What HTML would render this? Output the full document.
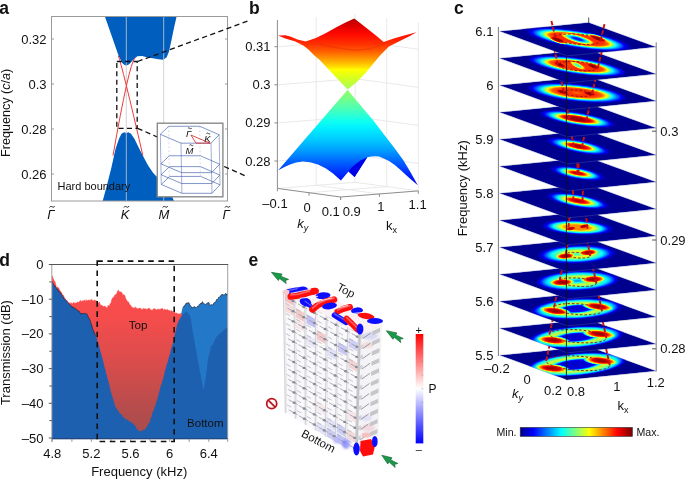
<!DOCTYPE html>
<html><head><meta charset="utf-8"><style>
html,body{margin:0;padding:0;background:#fff;overflow:hidden;}
svg{display:block;will-change:transform;}
text{font-family:"Liberation Sans",sans-serif;fill:#111;}
</style></head><body>
<svg width="685" height="479" viewBox="0 0 685 479">
<rect width="685" height="479" fill="#fff"/>
<path d="M104.90 16.50 L118.70 56.10 L122.20 63.10 L124.50 65.00 L126.30 65.50 L128.40 64.80 L130.40 63.10 L133.90 59.00 L137.40 56.30 L142.10 56.00 L146.80 57.20 L152.60 58.30 L158.50 59.30 L163.20 59.80 L166.70 57.30 L169.00 51.40 L171.30 40.90 L173.70 29.20 L176.60 16.50 Z" fill="#005ebe"/>
<path d="M102.70 201.00 L107.00 185.00 L111.30 168.00 L115.50 149.10 L119.00 138.80 L121.50 133.70 L124.10 132.30 L126.20 133.00 L128.40 132.30 L131.00 133.70 L134.40 138.80 L138.70 147.40 L143.00 156.00 L148.10 165.40 L153.20 173.10 L157.50 177.40 L162.00 182.00 L166.00 186.50 L170.00 192.00 L174.00 201.00 Z" fill="#005ebe"/>
<line x1="126.3" y1="16.5" x2="126.3" y2="201.0" stroke="#c9c9c9" stroke-width="0.9" opacity="0.9"/>
<line x1="163.7" y1="16.5" x2="163.7" y2="201.0" stroke="#c9c9c9" stroke-width="0.9" opacity="0.9"/>
<path d="M118.3 55.7 Q122.20 65.95 142.9 155.6" fill="none" stroke="#f03a3a" stroke-width="1.0"/>
<path d="M134.9 58.0 Q128.85 64.80 113.0 155.6" fill="none" stroke="#f03a3a" stroke-width="1.0"/>
<rect x="51.5" y="16.5" width="176.0" height="184.5" fill="none" stroke="#9a9a9a" stroke-width="1"/>
<line x1="51.5" y1="39.0" x2="54.0" y2="39.0" stroke="#9a9a9a" stroke-width="1"/>
<line x1="227.5" y1="39.0" x2="225.0" y2="39.0" stroke="#9a9a9a" stroke-width="1"/>
<line x1="51.5" y1="84.0" x2="54.0" y2="84.0" stroke="#9a9a9a" stroke-width="1"/>
<line x1="227.5" y1="84.0" x2="225.0" y2="84.0" stroke="#9a9a9a" stroke-width="1"/>
<line x1="51.5" y1="129.0" x2="54.0" y2="129.0" stroke="#9a9a9a" stroke-width="1"/>
<line x1="227.5" y1="129.0" x2="225.0" y2="129.0" stroke="#9a9a9a" stroke-width="1"/>
<line x1="51.5" y1="174.0" x2="54.0" y2="174.0" stroke="#9a9a9a" stroke-width="1"/>
<line x1="227.5" y1="174.0" x2="225.0" y2="174.0" stroke="#9a9a9a" stroke-width="1"/>
<text x="46.5" y="43.5" font-size="13" text-anchor="end" font-family="Liberation Sans, sans-serif">0.32</text>
<text x="46.5" y="88.5" font-size="13" text-anchor="end" font-family="Liberation Sans, sans-serif">0.3</text>
<text x="46.5" y="133.5" font-size="13" text-anchor="end" font-family="Liberation Sans, sans-serif">0.28</text>
<text x="46.5" y="178.5" font-size="13" text-anchor="end" font-family="Liberation Sans, sans-serif">0.26</text>
<text transform="translate(10.4,112.9) rotate(-90)" font-size="12.6" text-anchor="middle" font-family="Liberation Sans, sans-serif">Frequency (<tspan font-style="italic">c</tspan>/<tspan font-style="italic">a</tspan>)</text>
<text x="50.9" y="218.7" font-size="13" font-style="italic" text-anchor="middle" font-family="Liberation Sans, sans-serif">Γ</text>
<path d="M49.60 207.52 C50.60 205.60 51.35 206.56 52.10 206.80 S53.60 208.00 54.60 206.08" fill="none" stroke="#111" stroke-width="0.9"/>
<text x="125.2" y="218.7" font-size="13" font-style="italic" text-anchor="middle" font-family="Liberation Sans, sans-serif">K</text>
<path d="M123.90 207.52 C124.90 205.60 125.65 206.56 126.40 206.80 S127.90 208.00 128.90 206.08" fill="none" stroke="#111" stroke-width="0.9"/>
<text x="164.0" y="218.7" font-size="13" font-style="italic" text-anchor="middle" font-family="Liberation Sans, sans-serif">M</text>
<path d="M162.70 207.52 C163.70 205.60 164.45 206.56 165.20 206.80 S166.70 208.00 167.70 206.08" fill="none" stroke="#111" stroke-width="0.9"/>
<text x="226.3" y="218.7" font-size="13" font-style="italic" text-anchor="middle" font-family="Liberation Sans, sans-serif">Γ</text>
<path d="M225.00 207.52 C226.00 205.60 226.75 206.56 227.50 206.80 S229.00 208.00 230.00 206.08" fill="none" stroke="#111" stroke-width="0.9"/>
<text x="57.5" y="189.9" font-size="11" font-family="Liberation Sans, sans-serif">Hard boundary</text>
<rect x="116.8" y="61.5" width="20.4" height="66.8" fill="none" stroke="#111" stroke-width="1.3" stroke-dasharray="5 3.4"/>
<line x1="137.6" y1="61.5" x2="248.2" y2="20.9" stroke="#111" stroke-width="1.3" stroke-dasharray="5.2 3.4"/>
<line x1="137.6" y1="128.3" x2="245.0" y2="175.7" stroke="#111" stroke-width="1.3" stroke-dasharray="5.2 3.4"/>
<rect x="157.3" y="123.2" width="65.6" height="73.6" fill="#fff" stroke="#8a8a8a" stroke-width="1.4"/>
<path d="M160.33 134.34 L168.78 126.27 L199.77 126.27 L219.11 134.72 L211.03 143.17 L180.99 143.17 Z" fill="none" stroke="#3a5aa8" stroke-width="0.75" opacity="0.85"/>
<path d="M160.89 163.83 L169.34 155.75 L200.33 155.75 L219.67 164.20 L211.60 172.65 L181.55 172.65 Z" fill="none" stroke="#3a5aa8" stroke-width="0.75" opacity="0.85"/>
<path d="M161.08 174.72 L169.53 166.64 L200.52 166.64 L219.86 175.09 L211.78 183.54 L181.74 183.54 Z" fill="none" stroke="#3a5aa8" stroke-width="0.75" opacity="0.85"/>
<path d="M161.27 184.48 L169.72 176.41 L200.70 176.41 L220.05 184.86 L211.97 193.31 L181.92 193.31 Z" fill="none" stroke="#3a5aa8" stroke-width="0.75" opacity="0.85"/>
<line x1="160.33" y1="134.34" x2="161.27" y2="184.48" stroke="#3a5aa8" stroke-width="0.6" opacity="0.8" />
<line x1="180.99" y1="143.17" x2="181.92" y2="193.31" stroke="#3a5aa8" stroke-width="0.6" opacity="0.8" />
<line x1="211.03" y1="143.17" x2="211.97" y2="193.31" stroke="#3a5aa8" stroke-width="0.6" opacity="0.8" />
<line x1="219.11" y1="134.72" x2="220.05" y2="184.86" stroke="#3a5aa8" stroke-width="0.6" opacity="0.8" />
<line x1="168.78" y1="126.27" x2="169.34" y2="176.97" stroke="#9aa8cc" stroke-width="0.6" opacity="0.7" stroke-dasharray="2 2"/>
<line x1="199.77" y1="126.27" x2="200.33" y2="176.97" stroke="#9aa8cc" stroke-width="0.6" opacity="0.7" stroke-dasharray="2 2"/>
<path d="M190.94 135.09 L210.09 143.17 L196.01 143.17 Z" fill="none" stroke="#d62020" stroke-width="0.8"/>
<text x="185.90" y="136.70" font-size="9.5" font-style="italic" font-family="Liberation Sans, sans-serif">Γ</text>
<text x="204.30" y="141.90" font-size="9.5" font-style="italic" font-family="Liberation Sans, sans-serif">K</text>
<text x="185.60" y="154.00" font-size="9.5" font-style="italic" font-family="Liberation Sans, sans-serif">M</text>
<path d="M187.90 128.30 q0.9 -1.0 1.9 0 t1.9 0" fill="none" stroke="#111" stroke-width="0.8"/>
<path d="M206.40 133.50 q0.9 -1.0 1.9 0 t1.9 0" fill="none" stroke="#111" stroke-width="0.8"/>
<path d="M189.50 145.20 q0.9 -1.0 1.9 0 t1.9 0" fill="none" stroke="#111" stroke-width="0.8"/>
<polyline points="277.4,161.0 355.1,154.9 418.3,163.5" fill="none" stroke="#e3e3e3" stroke-width="0.8"/>
<polyline points="277.4,122.9 355.1,116.8 418.3,125.4" fill="none" stroke="#e3e3e3" stroke-width="0.8"/>
<polyline points="277.4,84.8 355.1,78.7 418.3,87.3" fill="none" stroke="#e3e3e3" stroke-width="0.8"/>
<polyline points="277.4,46.7 355.1,40.6 418.3,49.2" fill="none" stroke="#e3e3e3" stroke-width="0.8"/>
<line x1="316.2" y1="185.3" x2="316.2" y2="16.9" stroke="#e3e3e3" stroke-width="0.8"/>
<line x1="386.7" y1="186.6" x2="386.7" y2="18.2" stroke="#e3e3e3" stroke-width="0.8"/>
<line x1="355.1" y1="182.3" x2="355.1" y2="13.9" stroke="#e3e3e3" stroke-width="0.8"/>
<line x1="418.3" y1="190.9" x2="418.3" y2="22.5" stroke="#e3e3e3" stroke-width="0.8"/>
<line x1="309.0" y1="192.7" x2="386.7" y2="186.6" stroke="#e3e3e3" stroke-width="0.8"/>
<line x1="316.2" y1="185.3" x2="379.4" y2="193.9" stroke="#e3e3e3" stroke-width="0.8"/>
<polyline points="277.4,188.4 355.1,182.3 418.3,190.9" fill="none" stroke="#e3e3e3" stroke-width="0.8"/>
<defs>
<linearGradient id="bup" gradientUnits="userSpaceOnUse" x1="0" y1="18" x2="0" y2="90">
<stop offset="0" stop-color="#b00000"/>
<stop offset="0.11" stop-color="#e00000"/>
<stop offset="0.22" stop-color="#ff0800"/>
<stop offset="0.36" stop-color="#ff3000"/>
<stop offset="0.47" stop-color="#ff6000"/>
<stop offset="0.58" stop-color="#ffa000"/>
<stop offset="0.67" stop-color="#ffd800"/>
<stop offset="0.72" stop-color="#ffff00"/>
<stop offset="0.83" stop-color="#d8ff20"/>
<stop offset="1" stop-color="#a0ff58"/>
</linearGradient>
<linearGradient id="blo" gradientUnits="userSpaceOnUse" x1="0" y1="90" x2="0" y2="186">
<stop offset="0" stop-color="#98ff68"/>
<stop offset="0.104" stop-color="#70ff90"/>
<stop offset="0.22" stop-color="#40ffc0"/>
<stop offset="0.323" stop-color="#10fff0"/>
<stop offset="0.396" stop-color="#00f0ff"/>
<stop offset="0.5" stop-color="#00d0ff"/>
<stop offset="0.625" stop-color="#00a0ff"/>
<stop offset="0.72" stop-color="#0070ff"/>
<stop offset="0.823" stop-color="#0040ff"/>
<stop offset="0.917" stop-color="#0018ff"/>
<stop offset="1" stop-color="#0008f0"/>
</linearGradient>
</defs>
<path d="M347.60 89.80 L361.90 106.90 L372.90 120.00 L383.80 134.30 L394.80 148.50 L403.50 160.60 L410.10 171.50 L417.80 185.30 L411.00 179.50 L405.70 174.80 L400.00 169.50 L394.80 165.00 L389.00 161.00 L383.80 158.40 L379.00 156.60 L375.00 156.20 L371.00 156.50 L367.30 157.30 L354.60 176.90 L348.50 171.50 L340.90 180.50 L333.00 173.50 L326.00 168.50 L318.00 164.50 L310.00 162.20 L302.70 161.60 L296.00 162.50 L290.00 164.50 L284.00 167.20 L278.20 170.20 Z" fill="url(#blo)"/>
<path d="M348.50 171.50 L352.00 167.20 L356.00 163.80 L361.00 160.20 L367.30 157.30 L354.60 176.90 Z" fill="#0000e6"/>
<path d="M278.10 35.50 L285.20 35.20 L290.30 36.50 L297.50 39.50 L305.60 41.60 L315.90 38.00 L326.10 32.90 L336.30 27.30 L345.00 22.70 L354.30 18.60 L362.00 24.50 L369.30 30.30 L377.50 36.80 L383.60 42.00 L393.70 38.40 L405.10 35.20 L416.50 32.20 L408.00 37.00 L401.90 40.10 L388.90 46.60 L380.70 54.70 L372.60 64.50 L364.40 74.30 L356.30 82.40 L347.70 89.60 L339.00 80.50 L330.00 71.00 L319.70 60.00 L313.80 54.90 L308.70 49.80 L303.60 45.70 L295.40 41.60 L285.20 38.50 Z" fill="url(#bup)"/>
<path d="M305.60 41.60 L315.90 43.60 L326.10 45.70 L336.30 47.70 L345.00 49.20 L356.30 50.20 L369.30 49.00 L377.00 46.50 L384.00 42.50" fill="none" stroke="#e83000" stroke-width="1.2" opacity="0.55"/>
<line x1="277.4" y1="188.4" x2="277.4" y2="20.0" stroke="#8c8c8c" stroke-width="1"/>
<line x1="274.4" y1="161.0" x2="277.4" y2="161.0" stroke="#8c8c8c" stroke-width="1"/>
<text x="270.6" y="165.5" font-size="13" text-anchor="end" font-family="Liberation Sans, sans-serif">0.28</text>
<line x1="274.4" y1="122.9" x2="277.4" y2="122.9" stroke="#8c8c8c" stroke-width="1"/>
<text x="270.6" y="127.4" font-size="13" text-anchor="end" font-family="Liberation Sans, sans-serif">0.29</text>
<line x1="274.4" y1="84.8" x2="277.4" y2="84.8" stroke="#8c8c8c" stroke-width="1"/>
<text x="270.6" y="89.3" font-size="13" text-anchor="end" font-family="Liberation Sans, sans-serif">0.3</text>
<line x1="274.4" y1="46.7" x2="277.4" y2="46.7" stroke="#8c8c8c" stroke-width="1"/>
<text x="270.6" y="51.2" font-size="13" text-anchor="end" font-family="Liberation Sans, sans-serif">0.31</text>
<polyline points="277.4,188.4 340.6,197.0 418.3,190.9" fill="none" stroke="#8c8c8c" stroke-width="1"/>
<line x1="277.4" y1="188.4" x2="277.4" y2="191.4" stroke="#8c8c8c" stroke-width="1"/>
<line x1="309.0" y1="192.7" x2="309.0" y2="195.7" stroke="#8c8c8c" stroke-width="1"/>
<line x1="340.6" y1="197.0" x2="340.6" y2="200.0" stroke="#8c8c8c" stroke-width="1"/>
<line x1="340.6" y1="197.0" x2="340.6" y2="200.0" stroke="#8c8c8c" stroke-width="1"/>
<line x1="379.4" y1="193.9" x2="379.4" y2="196.9" stroke="#8c8c8c" stroke-width="1"/>
<line x1="418.3" y1="190.9" x2="418.3" y2="193.9" stroke="#8c8c8c" stroke-width="1"/>
<text x="275.0" y="207.5" font-size="13" text-anchor="middle" font-family="Liberation Sans, sans-serif">–0.1</text>
<text x="307.0" y="211.5" font-size="13" text-anchor="middle" font-family="Liberation Sans, sans-serif">0</text>
<text x="330.7" y="215.5" font-size="13" text-anchor="middle" font-family="Liberation Sans, sans-serif">0.1</text>
<text x="351.8" y="215.5" font-size="13" text-anchor="middle" font-family="Liberation Sans, sans-serif">0.9</text>
<text x="380.8" y="211.0" font-size="13" text-anchor="middle" font-family="Liberation Sans, sans-serif">1</text>
<text x="417.6" y="208.5" font-size="13" text-anchor="middle" font-family="Liberation Sans, sans-serif">1.1</text>
<text x="297.2" y="227.5" font-size="13" font-style="italic" font-family="Liberation Sans, sans-serif">k<tspan font-size="9" dy="3">y</tspan></text>
<text x="386" y="229.5" font-size="13" font-family="Liberation Sans, sans-serif">k<tspan font-size="9" dy="3">x</tspan></text>
<defs><filter id="jetf" x="0" y="0" width="1" height="1" filterUnits="objectBoundingBox" color-interpolation-filters="sRGB"><feComponentTransfer><feFuncR type="table" tableValues="0.0000 0.0000 0.0000 0.0000 0.0000 0.0000 0.0000 0.0000 0.0000 0.0000 0.0000 0.0000 0.0000 0.0000 0.0000 0.0000 0.0000 0.0000 0.0000 0.0000 0.0000 0.0000 0.0000 0.0000 0.0625 0.1250 0.1875 0.2500 0.3125 0.3750 0.4375 0.5000 0.5625 0.6250 0.6875 0.7500 0.8125 0.8750 0.9375 1.0000 1.0000 1.0000 1.0000 1.0000 1.0000 1.0000 1.0000 1.0000 1.0000 1.0000 1.0000 1.0000 1.0000 1.0000 1.0000 1.0000 0.9375 0.8750 0.8125 0.7500 0.6875 0.6250 0.5625 0.5000"/><feFuncG type="table" tableValues="0.0000 0.0000 0.0000 0.0000 0.0000 0.0000 0.0000 0.0000 0.0625 0.1250 0.1875 0.2500 0.3125 0.3750 0.4375 0.5000 0.5625 0.6250 0.6875 0.7500 0.8125 0.8750 0.9375 1.0000 1.0000 1.0000 1.0000 1.0000 1.0000 1.0000 1.0000 1.0000 1.0000 1.0000 1.0000 1.0000 1.0000 1.0000 1.0000 1.0000 0.9375 0.8750 0.8125 0.7500 0.6875 0.6250 0.5625 0.5000 0.4375 0.3750 0.3125 0.2500 0.1875 0.1250 0.0625 0.0000 0.0000 0.0000 0.0000 0.0000 0.0000 0.0000 0.0000 0.0000"/><feFuncB type="table" tableValues="0.5625 0.6250 0.6875 0.7500 0.8125 0.8750 0.9375 1.0000 1.0000 1.0000 1.0000 1.0000 1.0000 1.0000 1.0000 1.0000 1.0000 1.0000 1.0000 1.0000 1.0000 1.0000 1.0000 1.0000 0.9375 0.8750 0.8125 0.7500 0.6875 0.6250 0.5625 0.5000 0.4375 0.3750 0.3125 0.2500 0.1875 0.1250 0.0625 0.0000 0.0000 0.0000 0.0000 0.0000 0.0000 0.0000 0.0000 0.0000 0.0000 0.0000 0.0000 0.0000 0.0000 0.0000 0.0000 0.0000 0.0000 0.0000 0.0000 0.0000 0.0000 0.0000 0.0000 0.0000"/></feComponentTransfer></filter>
<clipPath id="sqclip"><rect x="0" y="0" width="100" height="100"/></clipPath>
<radialGradient id="rg12"><stop offset="0.0000" stop-color="rgb(15,15,15)"/><stop offset="0.0250" stop-color="rgb(16,16,16)"/><stop offset="0.0500" stop-color="rgb(16,16,16)"/><stop offset="0.0750" stop-color="rgb(16,16,16)"/><stop offset="0.1000" stop-color="rgb(16,16,16)"/><stop offset="0.1250" stop-color="rgb(16,16,16)"/><stop offset="0.1500" stop-color="rgb(17,17,17)"/><stop offset="0.1750" stop-color="rgb(17,17,17)"/><stop offset="0.2000" stop-color="rgb(17,17,17)"/><stop offset="0.2250" stop-color="rgb(17,17,17)"/><stop offset="0.2500" stop-color="rgb(17,17,17)"/><stop offset="0.2750" stop-color="rgb(18,18,18)"/><stop offset="0.3000" stop-color="rgb(18,18,18)"/><stop offset="0.3250" stop-color="rgb(23,23,23)"/><stop offset="0.3500" stop-color="rgb(28,28,28)"/><stop offset="0.3750" stop-color="rgb(33,33,33)"/><stop offset="0.4000" stop-color="rgb(38,38,38)"/><stop offset="0.4250" stop-color="rgb(56,56,56)"/><stop offset="0.4500" stop-color="rgb(74,74,74)"/><stop offset="0.4750" stop-color="rgb(93,93,93)"/><stop offset="0.5000" stop-color="rgb(112,112,112)"/><stop offset="0.5250" stop-color="rgb(129,129,129)"/><stop offset="0.5500" stop-color="rgb(136,136,136)"/><stop offset="0.5750" stop-color="rgb(144,144,144)"/><stop offset="0.6000" stop-color="rgb(143,143,143)"/><stop offset="0.6250" stop-color="rgb(141,141,141)"/><stop offset="0.6500" stop-color="rgb(139,139,139)"/><stop offset="0.6750" stop-color="rgb(133,133,133)"/><stop offset="0.7000" stop-color="rgb(126,126,126)"/><stop offset="0.7250" stop-color="rgb(119,119,119)"/><stop offset="0.7500" stop-color="rgb(112,112,112)"/><stop offset="0.7750" stop-color="rgb(104,104,104)"/><stop offset="0.8000" stop-color="rgb(96,96,96)"/><stop offset="0.8250" stop-color="rgb(87,87,87)"/><stop offset="0.8500" stop-color="rgb(75,75,75)"/><stop offset="0.8750" stop-color="rgb(64,64,64)"/><stop offset="0.9000" stop-color="rgb(49,49,49)"/><stop offset="0.9250" stop-color="rgb(34,34,34)"/><stop offset="0.9500" stop-color="rgb(21,21,21)"/><stop offset="0.9750" stop-color="rgb(11,11,11)"/><stop offset="1.0000" stop-color="rgb(0,0,0)"/></radialGradient>
<clipPath id="sc12"><path d="M499.70 355.30 L588.70 346.50 L656.20 371.10 L567.20 379.90 Z"/></clipPath>
<radialGradient id="lg12_0"><stop offset="0.000" stop-color="rgb(247,247,247)"/><stop offset="0.200" stop-color="rgb(245,245,245)"/><stop offset="0.400" stop-color="rgb(230,230,230)"/><stop offset="0.600" stop-color="rgb(186,186,186)"/><stop offset="0.800" stop-color="rgb(104,104,104)"/><stop offset="0.920" stop-color="rgb(37,37,37)"/><stop offset="1.000" stop-color="rgb(0,0,0)"/></radialGradient>
<radialGradient id="lg12_1"><stop offset="0.000" stop-color="rgb(247,247,247)"/><stop offset="0.200" stop-color="rgb(245,245,245)"/><stop offset="0.400" stop-color="rgb(230,230,230)"/><stop offset="0.600" stop-color="rgb(186,186,186)"/><stop offset="0.800" stop-color="rgb(104,104,104)"/><stop offset="0.920" stop-color="rgb(37,37,37)"/><stop offset="1.000" stop-color="rgb(0,0,0)"/></radialGradient>
<radialGradient id="rg11"><stop offset="0.0000" stop-color="rgb(15,15,15)"/><stop offset="0.0250" stop-color="rgb(16,16,16)"/><stop offset="0.0500" stop-color="rgb(16,16,16)"/><stop offset="0.0750" stop-color="rgb(16,16,16)"/><stop offset="0.1000" stop-color="rgb(16,16,16)"/><stop offset="0.1250" stop-color="rgb(17,17,17)"/><stop offset="0.1500" stop-color="rgb(17,17,17)"/><stop offset="0.1750" stop-color="rgb(17,17,17)"/><stop offset="0.2000" stop-color="rgb(17,17,17)"/><stop offset="0.2250" stop-color="rgb(18,18,18)"/><stop offset="0.2500" stop-color="rgb(18,18,18)"/><stop offset="0.2750" stop-color="rgb(23,23,23)"/><stop offset="0.3000" stop-color="rgb(28,28,28)"/><stop offset="0.3250" stop-color="rgb(33,33,33)"/><stop offset="0.3500" stop-color="rgb(37,37,37)"/><stop offset="0.3750" stop-color="rgb(53,53,53)"/><stop offset="0.4000" stop-color="rgb(70,70,70)"/><stop offset="0.4250" stop-color="rgb(88,88,88)"/><stop offset="0.4500" stop-color="rgb(106,106,106)"/><stop offset="0.4750" stop-color="rgb(124,124,124)"/><stop offset="0.5000" stop-color="rgb(133,133,133)"/><stop offset="0.5250" stop-color="rgb(141,141,141)"/><stop offset="0.5500" stop-color="rgb(145,145,145)"/><stop offset="0.5750" stop-color="rgb(142,142,142)"/><stop offset="0.6000" stop-color="rgb(140,140,140)"/><stop offset="0.6250" stop-color="rgb(138,138,138)"/><stop offset="0.6500" stop-color="rgb(131,131,131)"/><stop offset="0.6750" stop-color="rgb(124,124,124)"/><stop offset="0.7000" stop-color="rgb(117,117,117)"/><stop offset="0.7250" stop-color="rgb(110,110,110)"/><stop offset="0.7500" stop-color="rgb(102,102,102)"/><stop offset="0.7750" stop-color="rgb(94,94,94)"/><stop offset="0.8000" stop-color="rgb(86,86,86)"/><stop offset="0.8250" stop-color="rgb(74,74,74)"/><stop offset="0.8500" stop-color="rgb(63,63,63)"/><stop offset="0.8750" stop-color="rgb(49,49,49)"/><stop offset="0.9000" stop-color="rgb(35,35,35)"/><stop offset="0.9250" stop-color="rgb(23,23,23)"/><stop offset="0.9500" stop-color="rgb(15,15,15)"/><stop offset="0.9750" stop-color="rgb(8,8,8)"/><stop offset="1.0000" stop-color="rgb(0,0,0)"/></radialGradient>
<clipPath id="sc11"><path d="M499.70 328.30 L588.70 319.50 L656.20 344.10 L567.20 352.90 Z"/></clipPath>
<radialGradient id="lg11_0"><stop offset="0.000" stop-color="rgb(247,247,247)"/><stop offset="0.200" stop-color="rgb(245,245,245)"/><stop offset="0.400" stop-color="rgb(230,230,230)"/><stop offset="0.600" stop-color="rgb(186,186,186)"/><stop offset="0.800" stop-color="rgb(104,104,104)"/><stop offset="0.920" stop-color="rgb(37,37,37)"/><stop offset="1.000" stop-color="rgb(0,0,0)"/></radialGradient>
<radialGradient id="lg11_1"><stop offset="0.000" stop-color="rgb(247,247,247)"/><stop offset="0.200" stop-color="rgb(245,245,245)"/><stop offset="0.400" stop-color="rgb(230,230,230)"/><stop offset="0.600" stop-color="rgb(186,186,186)"/><stop offset="0.800" stop-color="rgb(104,104,104)"/><stop offset="0.920" stop-color="rgb(37,37,37)"/><stop offset="1.000" stop-color="rgb(0,0,0)"/></radialGradient>
<radialGradient id="rg10"><stop offset="0.0000" stop-color="rgb(15,15,15)"/><stop offset="0.0250" stop-color="rgb(16,16,16)"/><stop offset="0.0500" stop-color="rgb(17,17,17)"/><stop offset="0.0750" stop-color="rgb(17,17,17)"/><stop offset="0.1000" stop-color="rgb(18,18,18)"/><stop offset="0.1250" stop-color="rgb(18,18,18)"/><stop offset="0.1500" stop-color="rgb(19,19,19)"/><stop offset="0.1750" stop-color="rgb(20,20,20)"/><stop offset="0.2000" stop-color="rgb(20,20,20)"/><stop offset="0.2250" stop-color="rgb(24,24,24)"/><stop offset="0.2500" stop-color="rgb(28,28,28)"/><stop offset="0.2750" stop-color="rgb(33,33,33)"/><stop offset="0.3000" stop-color="rgb(38,38,38)"/><stop offset="0.3250" stop-color="rgb(57,57,57)"/><stop offset="0.3500" stop-color="rgb(78,78,78)"/><stop offset="0.3750" stop-color="rgb(97,97,97)"/><stop offset="0.4000" stop-color="rgb(115,115,115)"/><stop offset="0.4250" stop-color="rgb(130,130,130)"/><stop offset="0.4500" stop-color="rgb(137,137,137)"/><stop offset="0.4750" stop-color="rgb(144,144,144)"/><stop offset="0.5000" stop-color="rgb(143,143,143)"/><stop offset="0.5250" stop-color="rgb(141,141,141)"/><stop offset="0.5500" stop-color="rgb(139,139,139)"/><stop offset="0.5750" stop-color="rgb(134,134,134)"/><stop offset="0.6000" stop-color="rgb(127,127,127)"/><stop offset="0.6250" stop-color="rgb(120,120,120)"/><stop offset="0.6500" stop-color="rgb(114,114,114)"/><stop offset="0.6750" stop-color="rgb(107,107,107)"/><stop offset="0.7000" stop-color="rgb(100,100,100)"/><stop offset="0.7250" stop-color="rgb(93,93,93)"/><stop offset="0.7500" stop-color="rgb(83,83,83)"/><stop offset="0.7750" stop-color="rgb(73,73,73)"/><stop offset="0.8000" stop-color="rgb(62,62,62)"/><stop offset="0.8250" stop-color="rgb(50,50,50)"/><stop offset="0.8500" stop-color="rgb(38,38,38)"/><stop offset="0.8750" stop-color="rgb(27,27,27)"/><stop offset="0.9000" stop-color="rgb(17,17,17)"/><stop offset="0.9250" stop-color="rgb(9,9,9)"/><stop offset="0.9500" stop-color="rgb(6,6,6)"/><stop offset="0.9750" stop-color="rgb(3,3,3)"/><stop offset="1.0000" stop-color="rgb(0,0,0)"/></radialGradient>
<clipPath id="sc10"><path d="M499.70 301.30 L588.70 292.50 L656.20 317.10 L567.20 325.90 Z"/></clipPath>
<radialGradient id="lg10_0"><stop offset="0.000" stop-color="rgb(247,247,247)"/><stop offset="0.200" stop-color="rgb(245,245,245)"/><stop offset="0.400" stop-color="rgb(230,230,230)"/><stop offset="0.600" stop-color="rgb(186,186,186)"/><stop offset="0.800" stop-color="rgb(104,104,104)"/><stop offset="0.920" stop-color="rgb(37,37,37)"/><stop offset="1.000" stop-color="rgb(0,0,0)"/></radialGradient>
<radialGradient id="lg10_1"><stop offset="0.000" stop-color="rgb(247,247,247)"/><stop offset="0.200" stop-color="rgb(245,245,245)"/><stop offset="0.400" stop-color="rgb(230,230,230)"/><stop offset="0.600" stop-color="rgb(186,186,186)"/><stop offset="0.800" stop-color="rgb(104,104,104)"/><stop offset="0.920" stop-color="rgb(37,37,37)"/><stop offset="1.000" stop-color="rgb(0,0,0)"/></radialGradient>
<radialGradient id="rg9"><stop offset="0.0000" stop-color="rgb(64,64,64)"/><stop offset="0.0250" stop-color="rgb(67,67,67)"/><stop offset="0.0500" stop-color="rgb(70,70,70)"/><stop offset="0.0750" stop-color="rgb(74,74,74)"/><stop offset="0.1000" stop-color="rgb(78,78,78)"/><stop offset="0.1250" stop-color="rgb(84,84,84)"/><stop offset="0.1500" stop-color="rgb(91,91,91)"/><stop offset="0.1750" stop-color="rgb(98,98,98)"/><stop offset="0.2000" stop-color="rgb(105,105,105)"/><stop offset="0.2250" stop-color="rgb(111,111,111)"/><stop offset="0.2500" stop-color="rgb(118,118,118)"/><stop offset="0.2750" stop-color="rgb(125,125,125)"/><stop offset="0.3000" stop-color="rgb(130,130,130)"/><stop offset="0.3250" stop-color="rgb(135,135,135)"/><stop offset="0.3500" stop-color="rgb(140,140,140)"/><stop offset="0.3750" stop-color="rgb(144,144,144)"/><stop offset="0.4000" stop-color="rgb(144,144,144)"/><stop offset="0.4250" stop-color="rgb(143,143,143)"/><stop offset="0.4500" stop-color="rgb(142,142,142)"/><stop offset="0.4750" stop-color="rgb(140,140,140)"/><stop offset="0.5000" stop-color="rgb(135,135,135)"/><stop offset="0.5250" stop-color="rgb(128,128,128)"/><stop offset="0.5500" stop-color="rgb(122,122,122)"/><stop offset="0.5750" stop-color="rgb(117,117,117)"/><stop offset="0.6000" stop-color="rgb(111,111,111)"/><stop offset="0.6250" stop-color="rgb(106,106,106)"/><stop offset="0.6500" stop-color="rgb(100,100,100)"/><stop offset="0.6750" stop-color="rgb(95,95,95)"/><stop offset="0.7000" stop-color="rgb(90,90,90)"/><stop offset="0.7250" stop-color="rgb(84,84,84)"/><stop offset="0.7500" stop-color="rgb(79,79,79)"/><stop offset="0.7750" stop-color="rgb(72,72,72)"/><stop offset="0.8000" stop-color="rgb(63,63,63)"/><stop offset="0.8250" stop-color="rgb(54,54,54)"/><stop offset="0.8500" stop-color="rgb(45,45,45)"/><stop offset="0.8750" stop-color="rgb(36,36,36)"/><stop offset="0.9000" stop-color="rgb(27,27,27)"/><stop offset="0.9250" stop-color="rgb(20,20,20)"/><stop offset="0.9500" stop-color="rgb(13,13,13)"/><stop offset="0.9750" stop-color="rgb(7,7,7)"/><stop offset="1.0000" stop-color="rgb(0,0,0)"/></radialGradient>
<clipPath id="sc9"><path d="M499.70 274.30 L588.70 265.50 L656.20 290.10 L567.20 298.90 Z"/></clipPath>
<radialGradient id="lg9_0"><stop offset="0.000" stop-color="rgb(247,247,247)"/><stop offset="0.200" stop-color="rgb(245,245,245)"/><stop offset="0.400" stop-color="rgb(230,230,230)"/><stop offset="0.600" stop-color="rgb(186,186,186)"/><stop offset="0.800" stop-color="rgb(104,104,104)"/><stop offset="0.920" stop-color="rgb(37,37,37)"/><stop offset="1.000" stop-color="rgb(0,0,0)"/></radialGradient>
<radialGradient id="lg9_1"><stop offset="0.000" stop-color="rgb(247,247,247)"/><stop offset="0.200" stop-color="rgb(245,245,245)"/><stop offset="0.400" stop-color="rgb(230,230,230)"/><stop offset="0.600" stop-color="rgb(186,186,186)"/><stop offset="0.800" stop-color="rgb(104,104,104)"/><stop offset="0.920" stop-color="rgb(37,37,37)"/><stop offset="1.000" stop-color="rgb(0,0,0)"/></radialGradient>
<radialGradient id="rg8"><stop offset="0.0000" stop-color="rgb(107,107,107)"/><stop offset="0.0250" stop-color="rgb(110,110,110)"/><stop offset="0.0500" stop-color="rgb(114,114,114)"/><stop offset="0.0750" stop-color="rgb(117,117,117)"/><stop offset="0.1000" stop-color="rgb(121,121,121)"/><stop offset="0.1250" stop-color="rgb(124,124,124)"/><stop offset="0.1500" stop-color="rgb(128,128,128)"/><stop offset="0.1750" stop-color="rgb(133,133,133)"/><stop offset="0.2000" stop-color="rgb(138,138,138)"/><stop offset="0.2250" stop-color="rgb(143,143,143)"/><stop offset="0.2500" stop-color="rgb(148,148,148)"/><stop offset="0.2750" stop-color="rgb(150,150,150)"/><stop offset="0.3000" stop-color="rgb(151,151,151)"/><stop offset="0.3250" stop-color="rgb(153,153,153)"/><stop offset="0.3500" stop-color="rgb(150,150,150)"/><stop offset="0.3750" stop-color="rgb(147,147,147)"/><stop offset="0.4000" stop-color="rgb(143,143,143)"/><stop offset="0.4250" stop-color="rgb(140,140,140)"/><stop offset="0.4500" stop-color="rgb(134,134,134)"/><stop offset="0.4750" stop-color="rgb(128,128,128)"/><stop offset="0.5000" stop-color="rgb(121,121,121)"/><stop offset="0.5250" stop-color="rgb(115,115,115)"/><stop offset="0.5500" stop-color="rgb(110,110,110)"/><stop offset="0.5750" stop-color="rgb(105,105,105)"/><stop offset="0.6000" stop-color="rgb(100,100,100)"/><stop offset="0.6250" stop-color="rgb(96,96,96)"/><stop offset="0.6500" stop-color="rgb(89,89,89)"/><stop offset="0.6750" stop-color="rgb(83,83,83)"/><stop offset="0.7000" stop-color="rgb(76,76,76)"/><stop offset="0.7250" stop-color="rgb(68,68,68)"/><stop offset="0.7500" stop-color="rgb(60,60,60)"/><stop offset="0.7750" stop-color="rgb(51,51,51)"/><stop offset="0.8000" stop-color="rgb(43,43,43)"/><stop offset="0.8250" stop-color="rgb(36,36,36)"/><stop offset="0.8500" stop-color="rgb(28,28,28)"/><stop offset="0.8750" stop-color="rgb(20,20,20)"/><stop offset="0.9000" stop-color="rgb(16,16,16)"/><stop offset="0.9250" stop-color="rgb(12,12,12)"/><stop offset="0.9500" stop-color="rgb(8,8,8)"/><stop offset="0.9750" stop-color="rgb(4,4,4)"/><stop offset="1.0000" stop-color="rgb(0,0,0)"/></radialGradient>
<clipPath id="sc8"><path d="M499.70 247.30 L588.70 238.50 L656.20 263.10 L567.20 271.90 Z"/></clipPath>
<radialGradient id="lg8_0"><stop offset="0.000" stop-color="rgb(247,247,247)"/><stop offset="0.200" stop-color="rgb(245,245,245)"/><stop offset="0.400" stop-color="rgb(230,230,230)"/><stop offset="0.600" stop-color="rgb(186,186,186)"/><stop offset="0.800" stop-color="rgb(104,104,104)"/><stop offset="0.920" stop-color="rgb(37,37,37)"/><stop offset="1.000" stop-color="rgb(0,0,0)"/></radialGradient>
<radialGradient id="lg8_1"><stop offset="0.000" stop-color="rgb(247,247,247)"/><stop offset="0.200" stop-color="rgb(245,245,245)"/><stop offset="0.400" stop-color="rgb(230,230,230)"/><stop offset="0.600" stop-color="rgb(186,186,186)"/><stop offset="0.800" stop-color="rgb(104,104,104)"/><stop offset="0.920" stop-color="rgb(37,37,37)"/><stop offset="1.000" stop-color="rgb(0,0,0)"/></radialGradient>
<radialGradient id="rg7"><stop offset="0.0000" stop-color="rgb(184,184,184)"/><stop offset="0.0250" stop-color="rgb(184,184,184)"/><stop offset="0.0500" stop-color="rgb(185,185,185)"/><stop offset="0.0750" stop-color="rgb(186,186,186)"/><stop offset="0.1000" stop-color="rgb(187,187,187)"/><stop offset="0.1250" stop-color="rgb(188,188,188)"/><stop offset="0.1500" stop-color="rgb(188,188,188)"/><stop offset="0.1750" stop-color="rgb(189,189,189)"/><stop offset="0.2000" stop-color="rgb(189,189,189)"/><stop offset="0.2250" stop-color="rgb(189,189,189)"/><stop offset="0.2500" stop-color="rgb(189,189,189)"/><stop offset="0.2750" stop-color="rgb(188,188,188)"/><stop offset="0.3000" stop-color="rgb(185,185,185)"/><stop offset="0.3250" stop-color="rgb(183,183,183)"/><stop offset="0.3500" stop-color="rgb(180,180,180)"/><stop offset="0.3750" stop-color="rgb(175,175,175)"/><stop offset="0.4000" stop-color="rgb(166,166,166)"/><stop offset="0.4250" stop-color="rgb(158,158,158)"/><stop offset="0.4500" stop-color="rgb(149,149,149)"/><stop offset="0.4750" stop-color="rgb(140,140,140)"/><stop offset="0.5000" stop-color="rgb(133,133,133)"/><stop offset="0.5250" stop-color="rgb(126,126,126)"/><stop offset="0.5500" stop-color="rgb(119,119,119)"/><stop offset="0.5750" stop-color="rgb(112,112,112)"/><stop offset="0.6000" stop-color="rgb(105,105,105)"/><stop offset="0.6250" stop-color="rgb(97,97,97)"/><stop offset="0.6500" stop-color="rgb(88,88,88)"/><stop offset="0.6750" stop-color="rgb(78,78,78)"/><stop offset="0.7000" stop-color="rgb(68,68,68)"/><stop offset="0.7250" stop-color="rgb(58,58,58)"/><stop offset="0.7500" stop-color="rgb(49,49,49)"/><stop offset="0.7750" stop-color="rgb(40,40,40)"/><stop offset="0.8000" stop-color="rgb(31,31,31)"/><stop offset="0.8250" stop-color="rgb(24,24,24)"/><stop offset="0.8500" stop-color="rgb(19,19,19)"/><stop offset="0.8750" stop-color="rgb(14,14,14)"/><stop offset="0.9000" stop-color="rgb(9,9,9)"/><stop offset="0.9250" stop-color="rgb(5,5,5)"/><stop offset="0.9500" stop-color="rgb(3,3,3)"/><stop offset="0.9750" stop-color="rgb(2,2,2)"/><stop offset="1.0000" stop-color="rgb(0,0,0)"/></radialGradient>
<clipPath id="sc7"><path d="M499.70 220.30 L588.70 211.50 L656.20 236.10 L567.20 244.90 Z"/></clipPath>
<radialGradient id="lg7_0"><stop offset="0.000" stop-color="rgb(247,247,247)"/><stop offset="0.200" stop-color="rgb(245,245,245)"/><stop offset="0.400" stop-color="rgb(230,230,230)"/><stop offset="0.600" stop-color="rgb(186,186,186)"/><stop offset="0.800" stop-color="rgb(104,104,104)"/><stop offset="0.920" stop-color="rgb(37,37,37)"/><stop offset="1.000" stop-color="rgb(0,0,0)"/></radialGradient>
<radialGradient id="lg7_1"><stop offset="0.000" stop-color="rgb(247,247,247)"/><stop offset="0.200" stop-color="rgb(245,245,245)"/><stop offset="0.400" stop-color="rgb(230,230,230)"/><stop offset="0.600" stop-color="rgb(186,186,186)"/><stop offset="0.800" stop-color="rgb(104,104,104)"/><stop offset="0.920" stop-color="rgb(37,37,37)"/><stop offset="1.000" stop-color="rgb(0,0,0)"/></radialGradient>
<radialGradient id="rg6"><stop offset="0.0000" stop-color="rgb(245,245,245)"/><stop offset="0.0250" stop-color="rgb(243,243,243)"/><stop offset="0.0500" stop-color="rgb(241,241,241)"/><stop offset="0.0750" stop-color="rgb(240,240,240)"/><stop offset="0.1000" stop-color="rgb(238,238,238)"/><stop offset="0.1250" stop-color="rgb(236,236,236)"/><stop offset="0.1500" stop-color="rgb(234,234,234)"/><stop offset="0.1750" stop-color="rgb(229,229,229)"/><stop offset="0.2000" stop-color="rgb(225,225,225)"/><stop offset="0.2250" stop-color="rgb(220,220,220)"/><stop offset="0.2500" stop-color="rgb(215,215,215)"/><stop offset="0.2750" stop-color="rgb(211,211,211)"/><stop offset="0.3000" stop-color="rgb(206,206,206)"/><stop offset="0.3250" stop-color="rgb(197,197,197)"/><stop offset="0.3500" stop-color="rgb(184,184,184)"/><stop offset="0.3750" stop-color="rgb(172,172,172)"/><stop offset="0.4000" stop-color="rgb(159,159,159)"/><stop offset="0.4250" stop-color="rgb(149,149,149)"/><stop offset="0.4500" stop-color="rgb(141,141,141)"/><stop offset="0.4750" stop-color="rgb(132,132,132)"/><stop offset="0.5000" stop-color="rgb(124,124,124)"/><stop offset="0.5250" stop-color="rgb(116,116,116)"/><stop offset="0.5500" stop-color="rgb(108,108,108)"/><stop offset="0.5750" stop-color="rgb(100,100,100)"/><stop offset="0.6000" stop-color="rgb(91,91,91)"/><stop offset="0.6250" stop-color="rgb(82,82,82)"/><stop offset="0.6500" stop-color="rgb(73,73,73)"/><stop offset="0.6750" stop-color="rgb(64,64,64)"/><stop offset="0.7000" stop-color="rgb(56,56,56)"/><stop offset="0.7250" stop-color="rgb(48,48,48)"/><stop offset="0.7500" stop-color="rgb(40,40,40)"/><stop offset="0.7750" stop-color="rgb(32,32,32)"/><stop offset="0.8000" stop-color="rgb(24,24,24)"/><stop offset="0.8250" stop-color="rgb(20,20,20)"/><stop offset="0.8500" stop-color="rgb(16,16,16)"/><stop offset="0.8750" stop-color="rgb(11,11,11)"/><stop offset="0.9000" stop-color="rgb(7,7,7)"/><stop offset="0.9250" stop-color="rgb(4,4,4)"/><stop offset="0.9500" stop-color="rgb(3,3,3)"/><stop offset="0.9750" stop-color="rgb(1,1,1)"/><stop offset="1.0000" stop-color="rgb(0,0,0)"/></radialGradient>
<clipPath id="sc6"><path d="M499.70 193.30 L588.70 184.50 L656.20 209.10 L567.20 217.90 Z"/></clipPath>
<radialGradient id="rg5"><stop offset="0.0000" stop-color="rgb(247,247,247)"/><stop offset="0.0250" stop-color="rgb(245,245,245)"/><stop offset="0.0500" stop-color="rgb(244,244,244)"/><stop offset="0.0750" stop-color="rgb(242,242,242)"/><stop offset="0.1000" stop-color="rgb(240,240,240)"/><stop offset="0.1250" stop-color="rgb(238,238,238)"/><stop offset="0.1500" stop-color="rgb(233,233,233)"/><stop offset="0.1750" stop-color="rgb(227,227,227)"/><stop offset="0.2000" stop-color="rgb(221,221,221)"/><stop offset="0.2250" stop-color="rgb(214,214,214)"/><stop offset="0.2500" stop-color="rgb(208,208,208)"/><stop offset="0.2750" stop-color="rgb(200,200,200)"/><stop offset="0.3000" stop-color="rgb(189,189,189)"/><stop offset="0.3250" stop-color="rgb(177,177,177)"/><stop offset="0.3500" stop-color="rgb(166,166,166)"/><stop offset="0.3750" stop-color="rgb(155,155,155)"/><stop offset="0.4000" stop-color="rgb(146,146,146)"/><stop offset="0.4250" stop-color="rgb(136,136,136)"/><stop offset="0.4500" stop-color="rgb(127,127,127)"/><stop offset="0.4750" stop-color="rgb(117,117,117)"/><stop offset="0.5000" stop-color="rgb(108,108,108)"/><stop offset="0.5250" stop-color="rgb(99,99,99)"/><stop offset="0.5500" stop-color="rgb(90,90,90)"/><stop offset="0.5750" stop-color="rgb(82,82,82)"/><stop offset="0.6000" stop-color="rgb(74,74,74)"/><stop offset="0.6250" stop-color="rgb(66,66,66)"/><stop offset="0.6500" stop-color="rgb(59,59,59)"/><stop offset="0.6750" stop-color="rgb(52,52,52)"/><stop offset="0.7000" stop-color="rgb(45,45,45)"/><stop offset="0.7250" stop-color="rgb(37,37,37)"/><stop offset="0.7500" stop-color="rgb(30,30,30)"/><stop offset="0.7750" stop-color="rgb(24,24,24)"/><stop offset="0.8000" stop-color="rgb(20,20,20)"/><stop offset="0.8250" stop-color="rgb(17,17,17)"/><stop offset="0.8500" stop-color="rgb(13,13,13)"/><stop offset="0.8750" stop-color="rgb(9,9,9)"/><stop offset="0.9000" stop-color="rgb(5,5,5)"/><stop offset="0.9250" stop-color="rgb(4,4,4)"/><stop offset="0.9500" stop-color="rgb(3,3,3)"/><stop offset="0.9750" stop-color="rgb(1,1,1)"/><stop offset="1.0000" stop-color="rgb(0,0,0)"/></radialGradient>
<clipPath id="sc5"><path d="M499.70 166.30 L588.70 157.50 L656.20 182.10 L567.20 190.90 Z"/></clipPath>
<radialGradient id="rg4"><stop offset="0.0000" stop-color="rgb(247,247,247)"/><stop offset="0.0250" stop-color="rgb(246,246,246)"/><stop offset="0.0500" stop-color="rgb(246,246,246)"/><stop offset="0.0750" stop-color="rgb(245,245,245)"/><stop offset="0.1000" stop-color="rgb(244,244,244)"/><stop offset="0.1250" stop-color="rgb(243,243,243)"/><stop offset="0.1500" stop-color="rgb(242,242,242)"/><stop offset="0.1750" stop-color="rgb(238,238,238)"/><stop offset="0.2000" stop-color="rgb(234,234,234)"/><stop offset="0.2250" stop-color="rgb(230,230,230)"/><stop offset="0.2500" stop-color="rgb(227,227,227)"/><stop offset="0.2750" stop-color="rgb(221,221,221)"/><stop offset="0.3000" stop-color="rgb(214,214,214)"/><stop offset="0.3250" stop-color="rgb(207,207,207)"/><stop offset="0.3500" stop-color="rgb(200,200,200)"/><stop offset="0.3750" stop-color="rgb(186,186,186)"/><stop offset="0.4000" stop-color="rgb(170,170,170)"/><stop offset="0.4250" stop-color="rgb(157,157,157)"/><stop offset="0.4500" stop-color="rgb(146,146,146)"/><stop offset="0.4750" stop-color="rgb(134,134,134)"/><stop offset="0.5000" stop-color="rgb(123,123,123)"/><stop offset="0.5250" stop-color="rgb(111,111,111)"/><stop offset="0.5500" stop-color="rgb(100,100,100)"/><stop offset="0.5750" stop-color="rgb(91,91,91)"/><stop offset="0.6000" stop-color="rgb(84,84,84)"/><stop offset="0.6250" stop-color="rgb(78,78,78)"/><stop offset="0.6500" stop-color="rgb(71,71,71)"/><stop offset="0.6750" stop-color="rgb(64,64,64)"/><stop offset="0.7000" stop-color="rgb(57,57,57)"/><stop offset="0.7250" stop-color="rgb(50,50,50)"/><stop offset="0.7500" stop-color="rgb(43,43,43)"/><stop offset="0.7750" stop-color="rgb(36,36,36)"/><stop offset="0.8000" stop-color="rgb(29,29,29)"/><stop offset="0.8250" stop-color="rgb(25,25,25)"/><stop offset="0.8500" stop-color="rgb(20,20,20)"/><stop offset="0.8750" stop-color="rgb(15,15,15)"/><stop offset="0.9000" stop-color="rgb(10,10,10)"/><stop offset="0.9250" stop-color="rgb(7,7,7)"/><stop offset="0.9500" stop-color="rgb(4,4,4)"/><stop offset="0.9750" stop-color="rgb(2,2,2)"/><stop offset="1.0000" stop-color="rgb(0,0,0)"/></radialGradient>
<clipPath id="sc4"><path d="M499.70 139.30 L588.70 130.50 L656.20 155.10 L567.20 163.90 Z"/></clipPath>
<radialGradient id="rg3"><stop offset="0.0000" stop-color="rgb(247,247,247)"/><stop offset="0.0250" stop-color="rgb(247,247,247)"/><stop offset="0.0500" stop-color="rgb(247,247,247)"/><stop offset="0.0750" stop-color="rgb(246,246,246)"/><stop offset="0.1000" stop-color="rgb(246,246,246)"/><stop offset="0.1250" stop-color="rgb(246,246,246)"/><stop offset="0.1500" stop-color="rgb(245,245,245)"/><stop offset="0.1750" stop-color="rgb(245,245,245)"/><stop offset="0.2000" stop-color="rgb(245,245,245)"/><stop offset="0.2250" stop-color="rgb(242,242,242)"/><stop offset="0.2500" stop-color="rgb(240,240,240)"/><stop offset="0.2750" stop-color="rgb(237,237,237)"/><stop offset="0.3000" stop-color="rgb(235,235,235)"/><stop offset="0.3250" stop-color="rgb(228,228,228)"/><stop offset="0.3500" stop-color="rgb(222,222,222)"/><stop offset="0.3750" stop-color="rgb(215,215,215)"/><stop offset="0.4000" stop-color="rgb(209,209,209)"/><stop offset="0.4250" stop-color="rgb(196,196,196)"/><stop offset="0.4500" stop-color="rgb(184,184,184)"/><stop offset="0.4750" stop-color="rgb(171,171,171)"/><stop offset="0.5000" stop-color="rgb(158,158,158)"/><stop offset="0.5250" stop-color="rgb(146,146,146)"/><stop offset="0.5500" stop-color="rgb(133,133,133)"/><stop offset="0.5750" stop-color="rgb(121,121,121)"/><stop offset="0.6000" stop-color="rgb(108,108,108)"/><stop offset="0.6250" stop-color="rgb(96,96,96)"/><stop offset="0.6500" stop-color="rgb(88,88,88)"/><stop offset="0.6750" stop-color="rgb(80,80,80)"/><stop offset="0.7000" stop-color="rgb(72,72,72)"/><stop offset="0.7250" stop-color="rgb(64,64,64)"/><stop offset="0.7500" stop-color="rgb(55,55,55)"/><stop offset="0.7750" stop-color="rgb(47,47,47)"/><stop offset="0.8000" stop-color="rgb(39,39,39)"/><stop offset="0.8250" stop-color="rgb(31,31,31)"/><stop offset="0.8500" stop-color="rgb(25,25,25)"/><stop offset="0.8750" stop-color="rgb(19,19,19)"/><stop offset="0.9000" stop-color="rgb(13,13,13)"/><stop offset="0.9250" stop-color="rgb(8,8,8)"/><stop offset="0.9500" stop-color="rgb(5,5,5)"/><stop offset="0.9750" stop-color="rgb(3,3,3)"/><stop offset="1.0000" stop-color="rgb(0,0,0)"/></radialGradient>
<clipPath id="sc3"><path d="M499.70 112.30 L588.70 103.50 L656.20 128.10 L567.20 136.90 Z"/></clipPath>
<radialGradient id="rg2"><stop offset="0.0000" stop-color="rgb(194,194,194)"/><stop offset="0.0250" stop-color="rgb(196,196,196)"/><stop offset="0.0500" stop-color="rgb(199,199,199)"/><stop offset="0.0750" stop-color="rgb(201,201,201)"/><stop offset="0.1000" stop-color="rgb(203,203,203)"/><stop offset="0.1250" stop-color="rgb(206,206,206)"/><stop offset="0.1500" stop-color="rgb(208,208,208)"/><stop offset="0.1750" stop-color="rgb(209,209,209)"/><stop offset="0.2000" stop-color="rgb(209,209,209)"/><stop offset="0.2250" stop-color="rgb(209,209,209)"/><stop offset="0.2500" stop-color="rgb(209,209,209)"/><stop offset="0.2750" stop-color="rgb(209,209,209)"/><stop offset="0.3000" stop-color="rgb(209,209,209)"/><stop offset="0.3250" stop-color="rgb(209,209,209)"/><stop offset="0.3500" stop-color="rgb(209,209,209)"/><stop offset="0.3750" stop-color="rgb(209,209,209)"/><stop offset="0.4000" stop-color="rgb(209,209,209)"/><stop offset="0.4250" stop-color="rgb(206,206,206)"/><stop offset="0.4500" stop-color="rgb(203,203,203)"/><stop offset="0.4750" stop-color="rgb(201,201,201)"/><stop offset="0.5000" stop-color="rgb(198,198,198)"/><stop offset="0.5250" stop-color="rgb(190,190,190)"/><stop offset="0.5500" stop-color="rgb(178,178,178)"/><stop offset="0.5750" stop-color="rgb(168,168,168)"/><stop offset="0.6000" stop-color="rgb(158,158,158)"/><stop offset="0.6250" stop-color="rgb(143,143,143)"/><stop offset="0.6500" stop-color="rgb(128,128,128)"/><stop offset="0.6750" stop-color="rgb(112,112,112)"/><stop offset="0.7000" stop-color="rgb(96,96,96)"/><stop offset="0.7250" stop-color="rgb(86,86,86)"/><stop offset="0.7500" stop-color="rgb(75,75,75)"/><stop offset="0.7750" stop-color="rgb(67,67,67)"/><stop offset="0.8000" stop-color="rgb(59,59,59)"/><stop offset="0.8250" stop-color="rgb(51,51,51)"/><stop offset="0.8500" stop-color="rgb(43,43,43)"/><stop offset="0.8750" stop-color="rgb(34,34,34)"/><stop offset="0.9000" stop-color="rgb(26,26,26)"/><stop offset="0.9250" stop-color="rgb(19,19,19)"/><stop offset="0.9500" stop-color="rgb(13,13,13)"/><stop offset="0.9750" stop-color="rgb(6,6,6)"/><stop offset="1.0000" stop-color="rgb(0,0,0)"/></radialGradient>
<clipPath id="sc2"><path d="M499.70 85.30 L588.70 76.50 L656.20 101.10 L567.20 109.90 Z"/></clipPath>
<radialGradient id="lg2_0"><stop offset="0.000" stop-color="rgb(255,255,255)"/><stop offset="0.200" stop-color="rgb(252,252,252)"/><stop offset="0.400" stop-color="rgb(237,237,237)"/><stop offset="0.600" stop-color="rgb(191,191,191)"/><stop offset="0.800" stop-color="rgb(107,107,107)"/><stop offset="0.920" stop-color="rgb(38,38,38)"/><stop offset="1.000" stop-color="rgb(0,0,0)"/></radialGradient>
<radialGradient id="lg2_1"><stop offset="0.000" stop-color="rgb(255,255,255)"/><stop offset="0.200" stop-color="rgb(252,252,252)"/><stop offset="0.400" stop-color="rgb(237,237,237)"/><stop offset="0.600" stop-color="rgb(191,191,191)"/><stop offset="0.800" stop-color="rgb(107,107,107)"/><stop offset="0.920" stop-color="rgb(38,38,38)"/><stop offset="1.000" stop-color="rgb(0,0,0)"/></radialGradient>
<radialGradient id="rg1"><stop offset="0.0000" stop-color="rgb(204,204,204)"/><stop offset="0.0250" stop-color="rgb(204,204,204)"/><stop offset="0.0500" stop-color="rgb(205,205,205)"/><stop offset="0.0750" stop-color="rgb(205,205,205)"/><stop offset="0.1000" stop-color="rgb(206,206,206)"/><stop offset="0.1250" stop-color="rgb(206,206,206)"/><stop offset="0.1500" stop-color="rgb(207,207,207)"/><stop offset="0.1750" stop-color="rgb(207,207,207)"/><stop offset="0.2000" stop-color="rgb(208,208,208)"/><stop offset="0.2250" stop-color="rgb(208,208,208)"/><stop offset="0.2500" stop-color="rgb(209,209,209)"/><stop offset="0.2750" stop-color="rgb(209,209,209)"/><stop offset="0.3000" stop-color="rgb(210,210,210)"/><stop offset="0.3250" stop-color="rgb(210,210,210)"/><stop offset="0.3500" stop-color="rgb(211,211,211)"/><stop offset="0.3750" stop-color="rgb(211,211,211)"/><stop offset="0.4000" stop-color="rgb(212,212,212)"/><stop offset="0.4250" stop-color="rgb(210,210,210)"/><stop offset="0.4500" stop-color="rgb(208,208,208)"/><stop offset="0.4750" stop-color="rgb(207,207,207)"/><stop offset="0.5000" stop-color="rgb(205,205,205)"/><stop offset="0.5250" stop-color="rgb(202,202,202)"/><stop offset="0.5500" stop-color="rgb(193,193,193)"/><stop offset="0.5750" stop-color="rgb(181,181,181)"/><stop offset="0.6000" stop-color="rgb(168,168,168)"/><stop offset="0.6250" stop-color="rgb(154,154,154)"/><stop offset="0.6500" stop-color="rgb(135,135,135)"/><stop offset="0.6750" stop-color="rgb(119,119,119)"/><stop offset="0.7000" stop-color="rgb(104,104,104)"/><stop offset="0.7250" stop-color="rgb(91,91,91)"/><stop offset="0.7500" stop-color="rgb(81,81,81)"/><stop offset="0.7750" stop-color="rgb(71,71,71)"/><stop offset="0.8000" stop-color="rgb(63,63,63)"/><stop offset="0.8250" stop-color="rgb(54,54,54)"/><stop offset="0.8500" stop-color="rgb(45,45,45)"/><stop offset="0.8750" stop-color="rgb(35,35,35)"/><stop offset="0.9000" stop-color="rgb(26,26,26)"/><stop offset="0.9250" stop-color="rgb(19,19,19)"/><stop offset="0.9500" stop-color="rgb(13,13,13)"/><stop offset="0.9750" stop-color="rgb(6,6,6)"/><stop offset="1.0000" stop-color="rgb(0,0,0)"/></radialGradient>
<clipPath id="sc1"><path d="M499.70 58.30 L588.70 49.50 L656.20 74.10 L567.20 82.90 Z"/></clipPath>
<radialGradient id="hg1"><stop offset="0.0000" stop-color="rgb(102,102,102)"/><stop offset="0.0250" stop-color="rgb(103,103,103)"/><stop offset="0.0500" stop-color="rgb(105,105,105)"/><stop offset="0.0750" stop-color="rgb(106,106,106)"/><stop offset="0.1000" stop-color="rgb(107,107,107)"/><stop offset="0.1250" stop-color="rgb(108,108,108)"/><stop offset="0.1500" stop-color="rgb(110,110,110)"/><stop offset="0.1750" stop-color="rgb(111,111,111)"/><stop offset="0.2000" stop-color="rgb(112,112,112)"/><stop offset="0.2250" stop-color="rgb(113,113,113)"/><stop offset="0.2500" stop-color="rgb(115,115,115)"/><stop offset="0.2750" stop-color="rgb(119,119,119)"/><stop offset="0.3000" stop-color="rgb(122,122,122)"/><stop offset="0.3250" stop-color="rgb(126,126,126)"/><stop offset="0.3500" stop-color="rgb(130,130,130)"/><stop offset="0.3750" stop-color="rgb(134,134,134)"/><stop offset="0.4000" stop-color="rgb(138,138,138)"/><stop offset="0.4250" stop-color="rgb(142,142,142)"/><stop offset="0.4500" stop-color="rgb(148,148,148)"/><stop offset="0.4750" stop-color="rgb(154,154,154)"/><stop offset="0.5000" stop-color="rgb(159,159,159)"/><stop offset="0.5250" stop-color="rgb(165,165,165)"/><stop offset="0.5500" stop-color="rgb(171,171,171)"/><stop offset="0.5750" stop-color="rgb(177,177,177)"/><stop offset="0.6000" stop-color="rgb(182,182,182)"/><stop offset="0.6250" stop-color="rgb(188,188,188)"/><stop offset="0.6500" stop-color="rgb(194,194,194)"/><stop offset="0.6750" stop-color="rgb(200,200,200)"/><stop offset="0.7000" stop-color="rgb(205,205,205)"/><stop offset="0.7250" stop-color="rgb(211,211,211)"/><stop offset="0.7500" stop-color="rgb(217,217,217)"/><stop offset="0.7750" stop-color="rgb(222,222,222)"/><stop offset="0.8000" stop-color="rgb(228,228,228)"/><stop offset="0.8250" stop-color="rgb(234,234,234)"/><stop offset="0.8500" stop-color="rgb(240,240,240)"/><stop offset="0.8750" stop-color="rgb(245,245,245)"/><stop offset="0.9000" stop-color="rgb(251,251,251)"/><stop offset="0.9250" stop-color="rgb(255,255,255)"/><stop offset="0.9500" stop-color="rgb(255,255,255)"/><stop offset="0.9750" stop-color="rgb(255,255,255)"/><stop offset="1.0000" stop-color="rgb(255,255,255)"/></radialGradient>
<radialGradient id="lg1_0"><stop offset="0.000" stop-color="rgb(255,255,255)"/><stop offset="0.200" stop-color="rgb(252,252,252)"/><stop offset="0.400" stop-color="rgb(237,237,237)"/><stop offset="0.600" stop-color="rgb(191,191,191)"/><stop offset="0.800" stop-color="rgb(107,107,107)"/><stop offset="0.920" stop-color="rgb(38,38,38)"/><stop offset="1.000" stop-color="rgb(0,0,0)"/></radialGradient>
<radialGradient id="lg1_1"><stop offset="0.000" stop-color="rgb(255,255,255)"/><stop offset="0.200" stop-color="rgb(252,252,252)"/><stop offset="0.400" stop-color="rgb(237,237,237)"/><stop offset="0.600" stop-color="rgb(191,191,191)"/><stop offset="0.800" stop-color="rgb(107,107,107)"/><stop offset="0.920" stop-color="rgb(38,38,38)"/><stop offset="1.000" stop-color="rgb(0,0,0)"/></radialGradient>
<radialGradient id="rg0"><stop offset="0.0000" stop-color="rgb(204,204,204)"/><stop offset="0.0250" stop-color="rgb(205,205,205)"/><stop offset="0.0500" stop-color="rgb(205,205,205)"/><stop offset="0.0750" stop-color="rgb(206,206,206)"/><stop offset="0.1000" stop-color="rgb(206,206,206)"/><stop offset="0.1250" stop-color="rgb(207,207,207)"/><stop offset="0.1500" stop-color="rgb(207,207,207)"/><stop offset="0.1750" stop-color="rgb(208,208,208)"/><stop offset="0.2000" stop-color="rgb(208,208,208)"/><stop offset="0.2250" stop-color="rgb(209,209,209)"/><stop offset="0.2500" stop-color="rgb(209,209,209)"/><stop offset="0.2750" stop-color="rgb(210,210,210)"/><stop offset="0.3000" stop-color="rgb(210,210,210)"/><stop offset="0.3250" stop-color="rgb(211,211,211)"/><stop offset="0.3500" stop-color="rgb(211,211,211)"/><stop offset="0.3750" stop-color="rgb(211,211,211)"/><stop offset="0.4000" stop-color="rgb(211,211,211)"/><stop offset="0.4250" stop-color="rgb(210,210,210)"/><stop offset="0.4500" stop-color="rgb(209,209,209)"/><stop offset="0.4750" stop-color="rgb(207,207,207)"/><stop offset="0.5000" stop-color="rgb(201,201,201)"/><stop offset="0.5250" stop-color="rgb(196,196,196)"/><stop offset="0.5500" stop-color="rgb(184,184,184)"/><stop offset="0.5750" stop-color="rgb(168,168,168)"/><stop offset="0.6000" stop-color="rgb(149,149,149)"/><stop offset="0.6250" stop-color="rgb(129,129,129)"/><stop offset="0.6500" stop-color="rgb(111,111,111)"/><stop offset="0.6750" stop-color="rgb(98,98,98)"/><stop offset="0.7000" stop-color="rgb(86,86,86)"/><stop offset="0.7250" stop-color="rgb(75,75,75)"/><stop offset="0.7500" stop-color="rgb(65,65,65)"/><stop offset="0.7750" stop-color="rgb(55,55,55)"/><stop offset="0.8000" stop-color="rgb(44,44,44)"/><stop offset="0.8250" stop-color="rgb(32,32,32)"/><stop offset="0.8500" stop-color="rgb(23,23,23)"/><stop offset="0.8750" stop-color="rgb(18,18,18)"/><stop offset="0.9000" stop-color="rgb(13,13,13)"/><stop offset="0.9250" stop-color="rgb(8,8,8)"/><stop offset="0.9500" stop-color="rgb(5,5,5)"/><stop offset="0.9750" stop-color="rgb(3,3,3)"/><stop offset="1.0000" stop-color="rgb(0,0,0)"/></radialGradient>
<clipPath id="sc0"><path d="M499.70 31.30 L588.70 22.50 L656.20 47.10 L567.20 55.90 Z"/></clipPath>
<radialGradient id="hg0"><stop offset="0.0000" stop-color="rgb(31,31,31)"/><stop offset="0.0250" stop-color="rgb(32,32,32)"/><stop offset="0.0500" stop-color="rgb(33,33,33)"/><stop offset="0.0750" stop-color="rgb(34,34,34)"/><stop offset="0.1000" stop-color="rgb(35,35,35)"/><stop offset="0.1250" stop-color="rgb(36,36,36)"/><stop offset="0.1500" stop-color="rgb(37,37,37)"/><stop offset="0.1750" stop-color="rgb(38,38,38)"/><stop offset="0.2000" stop-color="rgb(39,39,39)"/><stop offset="0.2250" stop-color="rgb(40,40,40)"/><stop offset="0.2500" stop-color="rgb(44,44,44)"/><stop offset="0.2750" stop-color="rgb(50,50,50)"/><stop offset="0.3000" stop-color="rgb(56,56,56)"/><stop offset="0.3250" stop-color="rgb(63,63,63)"/><stop offset="0.3500" stop-color="rgb(69,69,69)"/><stop offset="0.3750" stop-color="rgb(75,75,75)"/><stop offset="0.4000" stop-color="rgb(80,80,80)"/><stop offset="0.4250" stop-color="rgb(85,85,85)"/><stop offset="0.4500" stop-color="rgb(90,90,90)"/><stop offset="0.4750" stop-color="rgb(95,95,95)"/><stop offset="0.5000" stop-color="rgb(104,104,104)"/><stop offset="0.5250" stop-color="rgb(112,112,112)"/><stop offset="0.5500" stop-color="rgb(120,120,120)"/><stop offset="0.5750" stop-color="rgb(129,129,129)"/><stop offset="0.6000" stop-color="rgb(137,137,137)"/><stop offset="0.6250" stop-color="rgb(145,145,145)"/><stop offset="0.6500" stop-color="rgb(153,153,153)"/><stop offset="0.6750" stop-color="rgb(160,160,160)"/><stop offset="0.7000" stop-color="rgb(167,167,167)"/><stop offset="0.7250" stop-color="rgb(174,174,174)"/><stop offset="0.7500" stop-color="rgb(180,180,180)"/><stop offset="0.7750" stop-color="rgb(188,188,188)"/><stop offset="0.8000" stop-color="rgb(197,197,197)"/><stop offset="0.8250" stop-color="rgb(206,206,206)"/><stop offset="0.8500" stop-color="rgb(214,214,214)"/><stop offset="0.8750" stop-color="rgb(224,224,224)"/><stop offset="0.9000" stop-color="rgb(234,234,234)"/><stop offset="0.9250" stop-color="rgb(244,244,244)"/><stop offset="0.9500" stop-color="rgb(254,254,254)"/><stop offset="0.9750" stop-color="rgb(255,255,255)"/><stop offset="1.0000" stop-color="rgb(255,255,255)"/></radialGradient>
<radialGradient id="lg0_0"><stop offset="0.000" stop-color="rgb(255,255,255)"/><stop offset="0.200" stop-color="rgb(252,252,252)"/><stop offset="0.400" stop-color="rgb(237,237,237)"/><stop offset="0.600" stop-color="rgb(191,191,191)"/><stop offset="0.800" stop-color="rgb(107,107,107)"/><stop offset="0.920" stop-color="rgb(38,38,38)"/><stop offset="1.000" stop-color="rgb(0,0,0)"/></radialGradient>
<radialGradient id="lg0_1"><stop offset="0.000" stop-color="rgb(255,255,255)"/><stop offset="0.200" stop-color="rgb(252,252,252)"/><stop offset="0.400" stop-color="rgb(237,237,237)"/><stop offset="0.600" stop-color="rgb(191,191,191)"/><stop offset="0.800" stop-color="rgb(107,107,107)"/><stop offset="0.920" stop-color="rgb(38,38,38)"/><stop offset="1.000" stop-color="rgb(0,0,0)"/></radialGradient></defs>
<line x1="498.4" y1="27.0" x2="498.4" y2="356" stroke="#7c7c7c" stroke-width="1"/>
<line x1="656.2" y1="42.3" x2="656.2" y2="371.5" stroke="#7c7c7c" stroke-width="1"/>
<line x1="588.7" y1="17.5" x2="588.7" y2="23" stroke="#555" stroke-width="1"/>
<g filter="url(#jetf)"><g clip-path="url(#sc12)"><path d="M499.70 355.30 L588.70 346.50 L656.20 371.10 L567.20 379.90 Z" fill="#000"/><ellipse cx="0" cy="0" rx="50.00" ry="11.50" fill="url(#rg12)" transform="translate(576.40 364.50) rotate(-5.0)"/><ellipse cx="0" cy="0" rx="20.00" ry="5.00" fill="url(#lg12_0)" style="mix-blend-mode:lighten" transform="translate(551.80 368.30) rotate(6.0)"/><ellipse cx="0" cy="0" rx="20.00" ry="5.00" fill="url(#lg12_1)" style="mix-blend-mode:lighten" transform="translate(601.00 360.70) rotate(6.0)"/></g></g>
<path d="M499.70 355.30 L588.70 346.50 L656.20 371.10 L567.20 379.90 Z" fill="none" stroke="#6070b0" stroke-width="0.6" opacity="0.55"/>
<path d="M603.32 360.69 L604.76 361.26 L606.04 361.83 L607.14 362.42 L608.06 363.01 L608.79 363.60 L609.32 364.19 L609.65 364.78 L609.78 365.35 L609.71 365.91 L609.44 366.45 L608.98 366.97 L608.31 367.47 L607.45 367.94 L606.41 368.38 L605.19 368.79 L603.79 369.16 L602.23 369.50 L600.52 369.80 L598.67 370.05 L596.68 370.26 L594.57 370.43 L592.37 370.55 L590.06 370.62 L587.69 370.65 L585.25 370.63 L582.76 370.56 L580.25 370.44 L577.72 370.29 L575.19 370.08 L572.68 369.83 L570.20 369.54 L567.77 369.21 L565.41 368.85 L563.12 368.44 L560.93 368.01 L558.85 367.54 L556.88 367.04 L555.05 366.52 L553.37 365.98 L551.84 365.43 L550.48 364.86 L549.28 364.27 L548.28 363.68 L547.45 363.09 L546.82 362.50 L546.39 361.92 L546.16 361.34 L546.13 360.77 L546.30 360.22 L546.67 359.69 L547.23 359.17 L547.99 358.69 L548.94 358.23 L550.08 357.81 L551.39 357.42 L552.87 357.06 L554.50 356.75 L556.29 356.47 L558.21 356.24 L560.26 356.05 L562.42 355.91 L564.67 355.81 L567.02 355.76 L569.43 355.76 L571.89 355.80 L574.39 355.89 L576.92 356.03 L579.45 356.21 L581.97 356.44 L584.47 356.71 L586.92 357.02 L589.32 357.37 L591.65 357.75 L593.89 358.17 L596.02 358.62 L598.05 359.11 L599.95 359.61 L601.71 360.14 L603.32 360.69 Z" fill="none" stroke="#8a1414" stroke-width="1.0" stroke-dasharray="2.6 1.9" opacity="0.95"/>
<line x1="546.12" y1="360.93" x2="552.72" y2="330.93" stroke="#cc1010" stroke-width="1.9" stroke-dasharray="4.5 1.8"/>
<line x1="609.78" y1="365.42" x2="603.18" y2="335.42" stroke="#cc1010" stroke-width="1.9" stroke-dasharray="4.5 1.8"/>
<g filter="url(#jetf)"><g clip-path="url(#sc11)"><path d="M499.70 328.30 L588.70 319.50 L656.20 344.10 L567.20 352.90 Z" fill="#000"/><ellipse cx="0" cy="0" rx="48.00" ry="11.04" fill="url(#rg11)" transform="translate(576.20 337.10) rotate(-4.0)"/><ellipse cx="0" cy="0" rx="19.00" ry="5.00" fill="url(#lg11_0)" style="mix-blend-mode:lighten" transform="translate(553.00 340.20) rotate(6.0)"/><ellipse cx="0" cy="0" rx="19.00" ry="5.00" fill="url(#lg11_1)" style="mix-blend-mode:lighten" transform="translate(599.40 334.00) rotate(6.0)"/></g></g>
<path d="M499.70 328.30 L588.70 319.50 L656.20 344.10 L567.20 352.90 Z" fill="none" stroke="#6070b0" stroke-width="0.6" opacity="0.55"/>
<path d="M600.64 333.96 L601.94 334.46 L603.08 334.98 L604.07 335.50 L604.89 336.03 L605.54 336.56 L606.02 337.09 L606.31 337.61 L606.43 338.12 L606.37 338.62 L606.13 339.11 L605.71 339.58 L605.11 340.02 L604.35 340.44 L603.41 340.84 L602.32 341.20 L601.07 341.54 L599.68 341.84 L598.14 342.10 L596.48 342.33 L594.71 342.52 L592.82 342.66 L590.85 342.77 L588.79 342.84 L586.66 342.86 L584.48 342.84 L582.26 342.78 L580.01 342.68 L577.74 342.54 L575.48 342.36 L573.23 342.13 L571.02 341.88 L568.84 341.58 L566.73 341.25 L564.68 340.89 L562.72 340.50 L560.86 340.08 L559.10 339.64 L557.46 339.17 L555.96 338.69 L554.59 338.19 L553.37 337.68 L552.30 337.16 L551.40 336.63 L550.66 336.10 L550.10 335.58 L549.71 335.05 L549.51 334.53 L549.48 334.03 L549.63 333.53 L549.96 333.06 L550.47 332.60 L551.15 332.16 L552.00 331.76 L553.01 331.38 L554.19 331.03 L555.51 330.71 L556.97 330.43 L558.57 330.18 L560.29 329.97 L562.12 329.80 L564.05 329.68 L566.07 329.59 L568.17 329.54 L570.32 329.54 L572.53 329.58 L574.77 329.66 L577.02 329.78 L579.29 329.95 L581.55 330.15 L583.78 330.39 L585.98 330.67 L588.12 330.98 L590.20 331.33 L592.21 331.70 L594.12 332.11 L595.93 332.54 L597.63 332.99 L599.21 333.46 L600.64 333.96 Z" fill="none" stroke="#8a1414" stroke-width="1.0" stroke-dasharray="2.6 1.9" opacity="0.95"/>
<line x1="549.47" y1="334.17" x2="556.07" y2="304.17" stroke="#cc1010" stroke-width="1.9" stroke-dasharray="4.5 1.8"/>
<line x1="606.43" y1="338.18" x2="599.83" y2="308.18" stroke="#cc1010" stroke-width="1.9" stroke-dasharray="4.5 1.8"/>
<g filter="url(#jetf)"><g clip-path="url(#sc10)"><path d="M499.70 301.30 L588.70 292.50 L656.20 317.10 L567.20 325.90 Z" fill="#000"/><ellipse cx="0" cy="0" rx="48.00" ry="11.04" fill="url(#rg10)" transform="translate(576.50 308.80) rotate(-3.0)"/><ellipse cx="0" cy="0" rx="18.00" ry="4.80" fill="url(#lg10_0)" style="mix-blend-mode:lighten" transform="translate(555.00 311.00) rotate(8.0)"/><ellipse cx="0" cy="0" rx="18.00" ry="4.80" fill="url(#lg10_1)" style="mix-blend-mode:lighten" transform="translate(598.00 306.50) rotate(8.0)"/></g></g>
<path d="M499.70 301.30 L588.70 292.50 L656.20 317.10 L567.20 325.90 Z" fill="none" stroke="#6070b0" stroke-width="0.6" opacity="0.55"/>
<path d="M597.09 307.31 L598.18 307.73 L599.14 308.17 L599.97 308.61 L600.66 309.06 L601.21 309.50 L601.61 309.95 L601.86 310.39 L601.96 310.82 L601.91 311.24 L601.71 311.65 L601.36 312.05 L600.85 312.42 L600.21 312.78 L599.42 313.11 L598.50 313.42 L597.44 313.70 L596.27 313.95 L594.98 314.18 L593.58 314.37 L592.08 314.53 L590.49 314.65 L588.82 314.74 L587.09 314.80 L585.30 314.82 L583.46 314.80 L581.58 314.75 L579.68 314.67 L577.78 314.54 L575.87 314.39 L573.97 314.20 L572.10 313.99 L570.27 313.74 L568.49 313.46 L566.76 313.15 L565.11 312.82 L563.54 312.47 L562.06 312.10 L560.68 311.71 L559.41 311.30 L558.25 310.88 L557.22 310.45 L556.33 310.01 L555.56 309.57 L554.94 309.12 L554.47 308.67 L554.14 308.23 L553.97 307.79 L553.94 307.37 L554.07 306.95 L554.35 306.55 L554.78 306.16 L555.35 305.80 L556.07 305.45 L556.92 305.13 L557.91 304.84 L559.03 304.57 L560.26 304.33 L561.61 304.12 L563.06 303.95 L564.60 303.81 L566.23 303.70 L567.94 303.63 L569.70 303.59 L571.52 303.59 L573.38 303.62 L575.27 303.69 L577.17 303.79 L579.08 303.93 L580.98 304.10 L582.87 304.30 L584.72 304.54 L586.53 304.80 L588.28 305.09 L589.97 305.41 L591.59 305.75 L593.11 306.11 L594.54 306.49 L595.87 306.89 L597.09 307.31 Z" fill="none" stroke="#8a1414" stroke-width="1.0" stroke-dasharray="2.6 1.9" opacity="0.95"/>
<line x1="553.93" y1="307.49" x2="560.53" y2="277.49" stroke="#cc1010" stroke-width="1.9" stroke-dasharray="4.5 1.8"/>
<line x1="601.97" y1="310.87" x2="595.37" y2="280.87" stroke="#cc1010" stroke-width="1.9" stroke-dasharray="4.5 1.8"/>
<g filter="url(#jetf)"><g clip-path="url(#sc9)"><path d="M499.70 274.30 L588.70 265.50 L656.20 290.10 L567.20 298.90 Z" fill="#000"/><ellipse cx="0" cy="0" rx="42.00" ry="10.08" fill="url(#rg9)" transform="translate(577.50 280.80) rotate(-2.0)"/><ellipse cx="0" cy="0" rx="15.00" ry="4.60" fill="url(#lg9_0)" style="mix-blend-mode:lighten" transform="translate(561.90 282.30) rotate(-2.0)"/><ellipse cx="0" cy="0" rx="15.00" ry="4.60" fill="url(#lg9_1)" style="mix-blend-mode:lighten" transform="translate(593.10 279.20) rotate(-2.0)"/></g></g>
<path d="M499.70 274.30 L588.70 265.50 L656.20 290.10 L567.20 298.90 Z" fill="none" stroke="#6070b0" stroke-width="0.6" opacity="0.55"/>
<path d="M592.63 280.75 L593.47 281.08 L594.21 281.41 L594.85 281.75 L595.38 282.09 L595.80 282.43 L596.11 282.77 L596.30 283.11 L596.38 283.44 L596.34 283.77 L596.18 284.08 L595.91 284.38 L595.53 284.67 L595.03 284.95 L594.43 285.20 L593.72 285.44 L592.91 285.65 L592.01 285.85 L591.02 286.02 L589.94 286.17 L588.79 286.29 L587.57 286.38 L586.30 286.45 L584.96 286.50 L583.59 286.51 L582.18 286.50 L580.74 286.46 L579.28 286.39 L577.82 286.30 L576.35 286.18 L574.90 286.04 L573.46 285.87 L572.06 285.68 L570.69 285.47 L569.37 285.23 L568.10 284.98 L566.89 284.71 L565.75 284.43 L564.69 284.12 L563.72 283.81 L562.83 283.49 L562.04 283.16 L561.35 282.82 L560.77 282.48 L560.29 282.14 L559.93 281.80 L559.68 281.46 L559.54 281.12 L559.53 280.79 L559.62 280.47 L559.84 280.17 L560.17 279.87 L560.61 279.59 L561.16 279.32 L561.81 279.08 L562.57 278.85 L563.43 278.65 L564.38 278.46 L565.41 278.31 L566.52 278.17 L567.71 278.06 L568.96 277.98 L570.26 277.92 L571.62 277.89 L573.01 277.89 L574.44 277.92 L575.89 277.97 L577.35 278.05 L578.82 278.15 L580.28 278.29 L581.72 278.44 L583.14 278.62 L584.53 278.82 L585.88 279.05 L587.18 279.29 L588.41 279.55 L589.59 279.83 L590.69 280.12 L591.70 280.43 L592.63 280.75 Z" fill="none" stroke="#8a1414" stroke-width="1.0" stroke-dasharray="2.6 1.9" opacity="0.95"/>
<line x1="559.52" y1="280.89" x2="566.12" y2="250.89" stroke="#cc1010" stroke-width="1.9" stroke-dasharray="4.5 1.8"/>
<line x1="596.38" y1="283.48" x2="589.78" y2="253.48" stroke="#cc1010" stroke-width="1.9" stroke-dasharray="4.5 1.8"/>
<g filter="url(#jetf)"><g clip-path="url(#sc8)"><path d="M499.70 247.30 L588.70 238.50 L656.20 263.10 L567.20 271.90 Z" fill="#000"/><ellipse cx="0" cy="0" rx="40.00" ry="9.60" fill="url(#rg8)" transform="translate(576.90 254.20) rotate(-2.0)"/><ellipse cx="0" cy="0" rx="12.00" ry="4.00" fill="url(#lg8_0)" style="mix-blend-mode:lighten" transform="translate(565.40 256.00) rotate(-5.0)"/><ellipse cx="0" cy="0" rx="12.00" ry="4.00" fill="url(#lg8_1)" style="mix-blend-mode:lighten" transform="translate(588.30 252.50) rotate(-5.0)"/></g></g>
<path d="M499.70 247.30 L588.70 238.50 L656.20 263.10 L567.20 271.90 Z" fill="none" stroke="#6070b0" stroke-width="0.6" opacity="0.55"/>
<path d="M587.74 254.23 L588.30 254.45 L588.79 254.67 L589.22 254.90 L589.57 255.13 L589.85 255.36 L590.06 255.58 L590.19 255.81 L590.24 256.03 L590.21 256.25 L590.11 256.45 L589.92 256.66 L589.67 256.85 L589.34 257.03 L588.93 257.20 L588.46 257.36 L587.92 257.50 L587.32 257.63 L586.66 257.75 L585.95 257.84 L585.18 257.92 L584.37 257.99 L583.51 258.04 L582.63 258.06 L581.71 258.07 L580.77 258.07 L579.81 258.04 L578.84 258.00 L577.86 257.93 L576.88 257.86 L575.92 257.76 L574.96 257.65 L574.02 257.52 L573.11 257.38 L572.23 257.22 L571.38 257.05 L570.58 256.87 L569.82 256.68 L569.11 256.48 L568.46 256.27 L567.87 256.06 L567.35 255.84 L566.89 255.61 L566.50 255.39 L566.18 255.16 L565.94 254.93 L565.77 254.70 L565.68 254.48 L565.67 254.26 L565.73 254.05 L565.88 253.84 L566.09 253.65 L566.39 253.46 L566.76 253.28 L567.19 253.12 L567.70 252.97 L568.27 252.83 L568.90 252.71 L569.59 252.60 L570.33 252.51 L571.12 252.44 L571.96 252.39 L572.83 252.35 L573.73 252.33 L574.66 252.33 L575.61 252.34 L576.58 252.38 L577.55 252.43 L578.53 252.50 L579.50 252.59 L580.46 252.69 L581.41 252.81 L582.34 252.95 L583.24 253.10 L584.10 253.26 L584.93 253.43 L585.71 253.62 L586.44 253.82 L587.12 254.02 L587.74 254.23 Z" fill="none" stroke="#8a1414" stroke-width="1.0" stroke-dasharray="2.6 1.9" opacity="0.95"/>
<line x1="565.66" y1="254.32" x2="571.66" y2="224.32" stroke="#cc1010" stroke-width="1.9" stroke-dasharray="4.5 1.8"/>
<line x1="590.24" y1="256.06" x2="584.24" y2="226.06" stroke="#cc1010" stroke-width="1.9" stroke-dasharray="4.5 1.8"/>
<g filter="url(#jetf)"><g clip-path="url(#sc7)"><path d="M499.70 220.30 L588.70 211.50 L656.20 236.10 L567.20 244.90 Z" fill="#000"/><ellipse cx="0" cy="0" rx="38.00" ry="7.98" fill="url(#rg7)" transform="translate(577.40 227.40) rotate(3.0)"/><ellipse cx="0" cy="0" rx="8.00" ry="3.00" fill="url(#lg7_0)" style="mix-blend-mode:lighten" transform="translate(570.90 228.50) rotate(-9.0)"/><ellipse cx="0" cy="0" rx="8.00" ry="3.00" fill="url(#lg7_1)" style="mix-blend-mode:lighten" transform="translate(584.00 226.30) rotate(-9.0)"/></g></g>
<path d="M499.70 220.30 L588.70 211.50 L656.20 236.10 L567.20 244.90 Z" fill="none" stroke="#6070b0" stroke-width="0.6" opacity="0.55"/>
<line x1="568.34" y1="227.51" x2="571.94" y2="197.51" stroke="#cc1010" stroke-width="1.9" stroke-dasharray="4.5 1.8"/>
<line x1="587.56" y1="228.87" x2="583.96" y2="198.87" stroke="#cc1010" stroke-width="1.9" stroke-dasharray="4.5 1.8"/>
<g filter="url(#jetf)"><g clip-path="url(#sc6)"><path d="M499.70 193.30 L588.70 184.50 L656.20 209.10 L567.20 217.90 Z" fill="#000"/><ellipse cx="0" cy="0" rx="34.00" ry="7.14" fill="url(#rg6)" transform="translate(577.80 200.80) rotate(10.0)"/></g></g>
<path d="M499.70 193.30 L588.70 184.50 L656.20 209.10 L567.20 217.90 Z" fill="none" stroke="#6070b0" stroke-width="0.6" opacity="0.55"/>
<line x1="573.48" y1="200.88" x2="571.98" y2="170.88" stroke="#cc1010" stroke-width="1.9" stroke-dasharray="4.5 1.8"/>
<line x1="582.42" y1="201.51" x2="583.92" y2="171.51" stroke="#cc1010" stroke-width="1.9" stroke-dasharray="4.5 1.8"/>
<g filter="url(#jetf)"><g clip-path="url(#sc5)"><path d="M499.70 166.30 L588.70 157.50 L656.20 182.10 L567.20 190.90 Z" fill="#000"/><ellipse cx="0" cy="0" rx="30.00" ry="6.60" fill="url(#rg5)" transform="translate(577.60 173.20) rotate(10.0)"/></g></g>
<path d="M499.70 166.30 L588.70 157.50 L656.20 182.10 L567.20 190.90 Z" fill="none" stroke="#6070b0" stroke-width="0.6" opacity="0.55"/>
<line x1="577.39" y1="174.16" x2="577.39" y2="144.16" stroke="#cc1010" stroke-width="1.9" stroke-dasharray="4.5 1.8"/>
<line x1="578.51" y1="174.24" x2="578.51" y2="144.24" stroke="#cc1010" stroke-width="1.9" stroke-dasharray="4.5 1.8"/>
<g filter="url(#jetf)"><g clip-path="url(#sc4)"><path d="M499.70 139.30 L588.70 130.50 L656.20 155.10 L567.20 163.90 Z" fill="#000"/><ellipse cx="0" cy="0" rx="34.00" ry="6.80" fill="url(#rg4)" transform="translate(578.50 146.30) rotate(11.0)"/></g></g>
<path d="M499.70 139.30 L588.70 130.50 L656.20 155.10 L567.20 163.90 Z" fill="none" stroke="#6070b0" stroke-width="0.6" opacity="0.55"/>
<line x1="573.93" y1="146.91" x2="567.93" y2="116.91" stroke="#cc1010" stroke-width="1.9" stroke-dasharray="4.5 1.8"/>
<line x1="581.97" y1="147.48" x2="587.97" y2="117.48" stroke="#cc1010" stroke-width="1.9" stroke-dasharray="4.5 1.8"/>
<g filter="url(#jetf)"><g clip-path="url(#sc3)"><path d="M499.70 112.30 L588.70 103.50 L656.20 128.10 L567.20 136.90 Z" fill="#000"/><ellipse cx="0" cy="0" rx="40.00" ry="7.00" fill="url(#rg3)" transform="translate(577.40 118.90) rotate(9.0)"/></g></g>
<path d="M499.70 112.30 L588.70 103.50 L656.20 128.10 L567.20 136.90 Z" fill="none" stroke="#6070b0" stroke-width="0.6" opacity="0.55"/>
<line x1="569.57" y1="119.60" x2="562.97" y2="89.60" stroke="#cc1010" stroke-width="1.9" stroke-dasharray="4.5 1.8"/>
<line x1="586.33" y1="120.78" x2="592.93" y2="90.78" stroke="#cc1010" stroke-width="1.9" stroke-dasharray="4.5 1.8"/>
<g filter="url(#jetf)"><g clip-path="url(#sc2)"><path d="M499.70 85.30 L588.70 76.50 L656.20 101.10 L567.20 109.90 Z" fill="#000"/><ellipse cx="0" cy="0" rx="50.00" ry="9.00" fill="url(#rg2)" transform="translate(577.00 92.80) rotate(6.0)"/><ellipse cx="0" cy="0" rx="11.00" ry="3.40" fill="url(#lg2_0)" style="mix-blend-mode:lighten" transform="translate(562.60 91.90) rotate(12.0)"/><ellipse cx="0" cy="0" rx="11.00" ry="3.40" fill="url(#lg2_1)" style="mix-blend-mode:lighten" transform="translate(589.60 93.60) rotate(12.0)"/></g></g>
<path d="M499.70 85.30 L588.70 76.50 L656.20 101.10 L567.20 109.90 Z" fill="none" stroke="#6070b0" stroke-width="0.6" opacity="0.55"/>
<path d="M589.08 92.10 L589.71 92.35 L590.27 92.60 L590.75 92.86 L591.16 93.12 L591.47 93.38 L591.71 93.64 L591.85 93.89 L591.91 94.14 L591.88 94.39 L591.76 94.63 L591.56 94.85 L591.27 95.07 L590.89 95.28 L590.43 95.47 L589.90 95.65 L589.28 95.82 L588.60 95.96 L587.85 96.09 L587.04 96.20 L586.16 96.30 L585.24 96.37 L584.27 96.42 L583.26 96.45 L582.22 96.47 L581.15 96.46 L580.06 96.43 L578.96 96.38 L577.85 96.31 L576.74 96.22 L575.64 96.11 L574.55 95.98 L573.49 95.84 L572.45 95.68 L571.45 95.50 L570.49 95.31 L569.57 95.10 L568.71 94.89 L567.91 94.66 L567.17 94.42 L566.50 94.18 L565.90 93.93 L565.38 93.67 L564.93 93.41 L564.57 93.15 L564.30 92.89 L564.11 92.64 L564.01 92.38 L563.99 92.13 L564.07 91.89 L564.23 91.66 L564.48 91.43 L564.81 91.22 L565.23 91.02 L565.73 90.84 L566.30 90.66 L566.95 90.51 L567.67 90.37 L568.45 90.25 L569.29 90.15 L570.19 90.06 L571.14 90.00 L572.13 89.96 L573.15 89.94 L574.21 89.94 L575.29 89.96 L576.39 90.00 L577.50 90.05 L578.61 90.13 L579.71 90.23 L580.81 90.35 L581.88 90.49 L582.94 90.64 L583.96 90.81 L584.94 90.99 L585.88 91.19 L586.77 91.40 L587.60 91.63 L588.37 91.86 L589.08 92.10 Z" fill="none" stroke="#8a1414" stroke-width="1.0" stroke-dasharray="2.6 1.9" opacity="0.95"/>
<line x1="563.99" y1="92.20" x2="556.79" y2="62.20" stroke="#cc1010" stroke-width="1.9" stroke-dasharray="4.5 1.8"/>
<line x1="591.91" y1="94.17" x2="599.11" y2="64.17" stroke="#cc1010" stroke-width="1.9" stroke-dasharray="4.5 1.8"/>
<g filter="url(#jetf)"><g clip-path="url(#sc1)"><path d="M499.70 58.30 L588.70 49.50 L656.20 74.10 L567.20 82.90 Z" fill="#000"/><ellipse cx="0" cy="0" rx="50.00" ry="8.50" fill="url(#rg1)" transform="translate(577.00 66.00) rotate(8.0)"/><ellipse cx="0" cy="0" rx="12.00" ry="3.60" fill="url(#hg1)" style="mix-blend-mode:darken" transform="translate(577.60 65.40) rotate(26.0)"/><ellipse cx="0" cy="0" rx="11.00" ry="3.40" fill="url(#lg1_0)" style="mix-blend-mode:lighten" transform="translate(559.70 64.60) rotate(20.0)"/><ellipse cx="0" cy="0" rx="11.00" ry="3.40" fill="url(#lg1_1)" style="mix-blend-mode:lighten" transform="translate(593.00 66.30) rotate(20.0)"/></g></g>
<path d="M499.70 58.30 L588.70 49.50 L656.20 74.10 L567.20 82.90 Z" fill="none" stroke="#6070b0" stroke-width="0.6" opacity="0.55"/>
<path d="M593.88 64.62 L594.79 64.98 L595.59 65.34 L596.29 65.71 L596.86 66.08 L597.32 66.45 L597.65 66.82 L597.86 67.19 L597.94 67.55 L597.90 67.90 L597.73 68.24 L597.44 68.57 L597.02 68.88 L596.48 69.18 L595.83 69.46 L595.06 69.71 L594.18 69.95 L593.20 70.16 L592.13 70.34 L590.96 70.50 L589.71 70.63 L588.39 70.74 L587.00 70.81 L585.56 70.86 L584.07 70.88 L582.53 70.86 L580.97 70.82 L579.39 70.75 L577.80 70.65 L576.22 70.52 L574.64 70.37 L573.08 70.18 L571.56 69.98 L570.07 69.75 L568.64 69.49 L567.26 69.22 L565.95 68.92 L564.72 68.61 L563.57 68.29 L562.51 67.95 L561.55 67.60 L560.69 67.24 L559.95 66.87 L559.31 66.50 L558.80 66.13 L558.40 65.76 L558.13 65.39 L557.98 65.03 L557.96 64.67 L558.07 64.33 L558.30 63.99 L558.66 63.67 L559.14 63.37 L559.73 63.08 L560.45 62.81 L561.27 62.57 L562.20 62.35 L563.22 62.15 L564.35 61.97 L565.55 61.83 L566.84 61.71 L568.19 61.62 L569.61 61.56 L571.08 61.53 L572.60 61.53 L574.14 61.55 L575.71 61.61 L577.30 61.70 L578.89 61.81 L580.47 61.95 L582.04 62.12 L583.58 62.32 L585.09 62.54 L586.55 62.78 L587.96 63.04 L589.30 63.33 L590.57 63.63 L591.77 63.95 L592.87 64.28 L593.88 64.62 Z" fill="none" stroke="#8a1414" stroke-width="1.0" stroke-dasharray="2.6 1.9" opacity="0.95"/>
<line x1="557.96" y1="64.77" x2="550.76" y2="34.77" stroke="#cc1010" stroke-width="1.9" stroke-dasharray="4.5 1.8"/>
<line x1="597.94" y1="67.59" x2="605.14" y2="37.59" stroke="#cc1010" stroke-width="1.9" stroke-dasharray="4.5 1.8"/>
<g filter="url(#jetf)"><g clip-path="url(#sc0)"><path d="M499.70 31.30 L588.70 22.50 L656.20 47.10 L567.20 55.90 Z" fill="#000"/><ellipse cx="0" cy="0" rx="56.00" ry="9.52" fill="url(#rg0)" transform="translate(578.30 39.30) rotate(9.0)"/><ellipse cx="0" cy="0" rx="21.00" ry="4.62" fill="url(#hg0)" style="mix-blend-mode:darken" transform="translate(577.50 38.90) rotate(16.0)"/><ellipse cx="0" cy="0" rx="13.00" ry="3.60" fill="url(#lg0_0)" style="mix-blend-mode:lighten" transform="translate(557.70 39.70) rotate(19.0)"/><ellipse cx="0" cy="0" rx="14.00" ry="3.60" fill="url(#lg0_1)" style="mix-blend-mode:lighten" transform="translate(598.00 38.70) rotate(20.0)"/></g></g>
<path d="M499.70 31.30 L588.70 22.50 L656.20 47.10 L567.20 55.90 Z" fill="none" stroke="#6070b0" stroke-width="0.6" opacity="0.55"/>
<path d="M595.93 37.42 L596.95 37.82 L597.86 38.23 L598.64 38.65 L599.29 39.07 L599.81 39.49 L600.18 39.90 L600.42 40.32 L600.51 40.72 L600.46 41.12 L600.27 41.50 L599.94 41.87 L599.47 42.23 L598.86 42.56 L598.12 42.87 L597.25 43.16 L596.27 43.43 L595.16 43.67 L593.95 43.87 L592.63 44.05 L591.22 44.20 L589.73 44.32 L588.17 44.41 L586.54 44.46 L584.85 44.48 L583.12 44.46 L581.36 44.42 L579.58 44.33 L577.79 44.22 L575.99 44.08 L574.21 43.90 L572.46 43.70 L570.74 43.46 L569.06 43.20 L567.44 42.92 L565.89 42.61 L564.41 42.27 L563.02 41.92 L561.72 41.56 L560.53 41.17 L559.44 40.78 L558.48 40.37 L557.63 39.96 L556.92 39.54 L556.33 39.12 L555.89 38.71 L555.58 38.29 L555.42 37.88 L555.39 37.48 L555.51 37.09 L555.78 36.71 L556.18 36.35 L556.72 36.00 L557.39 35.68 L558.20 35.38 L559.12 35.10 L560.17 34.85 L561.33 34.63 L562.60 34.43 L563.96 34.27 L565.41 34.13 L566.94 34.03 L568.54 33.96 L570.20 33.93 L571.91 33.93 L573.65 33.96 L575.43 34.02 L577.22 34.12 L579.01 34.25 L580.80 34.41 L582.57 34.60 L584.31 34.82 L586.01 35.07 L587.66 35.34 L589.24 35.64 L590.76 35.96 L592.20 36.30 L593.54 36.66 L594.79 37.03 L595.93 37.42 Z" fill="none" stroke="#8a1414" stroke-width="1.0" stroke-dasharray="2.6 1.9" opacity="0.95"/>
<line x1="555.39" y1="37.59" x2="551.07" y2="19.59" stroke="#cc1010" stroke-width="1.9" stroke-dasharray="4.5 1.8"/>
<line x1="600.51" y1="40.77" x2="604.83" y2="22.77" stroke="#cc1010" stroke-width="1.9" stroke-dasharray="4.5 1.8"/>
<line x1="566.4" y1="55.5" x2="566.4" y2="380" stroke="#111" stroke-width="0.9"/>
<text x="493.4" y="35.8" font-size="13" text-anchor="end" font-family="Liberation Sans, sans-serif">6.1</text>
<text x="493.4" y="89.8" font-size="13" text-anchor="end" font-family="Liberation Sans, sans-serif">6</text>
<text x="493.4" y="143.8" font-size="13" text-anchor="end" font-family="Liberation Sans, sans-serif">5.9</text>
<text x="493.4" y="197.8" font-size="13" text-anchor="end" font-family="Liberation Sans, sans-serif">5.8</text>
<text x="493.4" y="251.8" font-size="13" text-anchor="end" font-family="Liberation Sans, sans-serif">5.7</text>
<text x="493.4" y="305.8" font-size="13" text-anchor="end" font-family="Liberation Sans, sans-serif">5.6</text>
<text x="493.4" y="359.8" font-size="13" text-anchor="end" font-family="Liberation Sans, sans-serif">5.5</text>
<line x1="652" y1="131.2" x2="656.2" y2="131.2" stroke="#444" stroke-width="0.9"/>
<text x="660.3" y="135.7" font-size="13" font-family="Liberation Sans, sans-serif">0.3</text>
<line x1="652" y1="240.0" x2="656.2" y2="240.0" stroke="#444" stroke-width="0.9"/>
<text x="660.3" y="244.5" font-size="13" font-family="Liberation Sans, sans-serif">0.29</text>
<line x1="652" y1="348.8" x2="656.2" y2="348.8" stroke="#444" stroke-width="0.9"/>
<text x="660.3" y="353.3" font-size="13" font-family="Liberation Sans, sans-serif">0.28</text>
<text transform="translate(467.0,188.3) rotate(-90)" font-size="13" text-anchor="middle" font-family="Liberation Sans, sans-serif">Frequency (kHz)</text>
<text x="497.0" y="372.5" font-size="13" text-anchor="middle" font-family="Liberation Sans, sans-serif">–0.2</text>
<text x="527.0" y="383.5" font-size="13" text-anchor="middle" font-family="Liberation Sans, sans-serif">0</text>
<text x="553.0" y="394.5" font-size="13" text-anchor="middle" font-family="Liberation Sans, sans-serif">0.2</text>
<text x="576.0" y="395.5" font-size="13" text-anchor="middle" font-family="Liberation Sans, sans-serif">0.8</text>
<text x="616.8" y="391.0" font-size="13" text-anchor="middle" font-family="Liberation Sans, sans-serif">1</text>
<text x="655.8" y="387.0" font-size="13" text-anchor="middle" font-family="Liberation Sans, sans-serif">1.2</text>
<text x="512" y="397.5" font-size="13" font-style="italic" font-family="Liberation Sans, sans-serif">k<tspan font-size="9" dy="3">y</tspan></text>
<text x="617.5" y="409.5" font-size="13" font-family="Liberation Sans, sans-serif">k<tspan font-size="9" dy="3">x</tspan></text>
<defs><linearGradient id="cbj" x1="0" y1="0" x2="1" y2="0"><stop offset="0.0078" stop-color="#00008f"/><stop offset="0.0234" stop-color="#00009f"/><stop offset="0.0391" stop-color="#0000af"/><stop offset="0.0547" stop-color="#0000bf"/><stop offset="0.0703" stop-color="#0000cf"/><stop offset="0.0859" stop-color="#0000df"/><stop offset="0.1016" stop-color="#0000ef"/><stop offset="0.1172" stop-color="#0000ff"/><stop offset="0.1328" stop-color="#0010ff"/><stop offset="0.1484" stop-color="#0020ff"/><stop offset="0.1641" stop-color="#0030ff"/><stop offset="0.1797" stop-color="#0040ff"/><stop offset="0.1953" stop-color="#0050ff"/><stop offset="0.2109" stop-color="#0060ff"/><stop offset="0.2266" stop-color="#0070ff"/><stop offset="0.2422" stop-color="#0080ff"/><stop offset="0.2578" stop-color="#008fff"/><stop offset="0.2734" stop-color="#009fff"/><stop offset="0.2891" stop-color="#00afff"/><stop offset="0.3047" stop-color="#00bfff"/><stop offset="0.3203" stop-color="#00cfff"/><stop offset="0.3359" stop-color="#00dfff"/><stop offset="0.3516" stop-color="#00efff"/><stop offset="0.3672" stop-color="#00ffff"/><stop offset="0.3828" stop-color="#10ffef"/><stop offset="0.3984" stop-color="#20ffdf"/><stop offset="0.4141" stop-color="#30ffcf"/><stop offset="0.4297" stop-color="#40ffbf"/><stop offset="0.4453" stop-color="#50ffaf"/><stop offset="0.4609" stop-color="#60ff9f"/><stop offset="0.4766" stop-color="#70ff8f"/><stop offset="0.4922" stop-color="#80ff80"/><stop offset="0.5078" stop-color="#8fff70"/><stop offset="0.5234" stop-color="#9fff60"/><stop offset="0.5391" stop-color="#afff50"/><stop offset="0.5547" stop-color="#bfff40"/><stop offset="0.5703" stop-color="#cfff30"/><stop offset="0.5859" stop-color="#dfff20"/><stop offset="0.6016" stop-color="#efff10"/><stop offset="0.6172" stop-color="#ffff00"/><stop offset="0.6328" stop-color="#ffef00"/><stop offset="0.6484" stop-color="#ffdf00"/><stop offset="0.6641" stop-color="#ffcf00"/><stop offset="0.6797" stop-color="#ffbf00"/><stop offset="0.6953" stop-color="#ffaf00"/><stop offset="0.7109" stop-color="#ff9f00"/><stop offset="0.7266" stop-color="#ff8f00"/><stop offset="0.7422" stop-color="#ff8000"/><stop offset="0.7578" stop-color="#ff7000"/><stop offset="0.7734" stop-color="#ff6000"/><stop offset="0.7891" stop-color="#ff5000"/><stop offset="0.8047" stop-color="#ff4000"/><stop offset="0.8203" stop-color="#ff3000"/><stop offset="0.8359" stop-color="#ff2000"/><stop offset="0.8516" stop-color="#ff1000"/><stop offset="0.8672" stop-color="#ff0000"/><stop offset="0.8828" stop-color="#ef0000"/><stop offset="0.8984" stop-color="#df0000"/><stop offset="0.9141" stop-color="#cf0000"/><stop offset="0.9297" stop-color="#bf0000"/><stop offset="0.9453" stop-color="#af0000"/><stop offset="0.9609" stop-color="#9f0000"/><stop offset="0.9766" stop-color="#8f0000"/><stop offset="0.9922" stop-color="#800000"/></linearGradient></defs>
<rect x="520.2" y="427.4" width="112.2" height="9" fill="url(#cbj)" stroke="#333" stroke-width="0.6"/>
<text x="516.5" y="436.3" font-size="10.6" text-anchor="end" font-family="Liberation Sans, sans-serif">Min.</text>
<text x="636.5" y="436.3" font-size="10.6" font-family="Liberation Sans, sans-serif">Max.</text>
<defs><linearGradient id="redg" gradientUnits="userSpaceOnUse" x1="0" y1="295" x2="0" y2="435"><stop offset="0" stop-color="#fb4c4c"/><stop offset="0.15" stop-color="#f64c4c"/><stop offset="0.5" stop-color="#d84c4c"/><stop offset="0.85" stop-color="#b24c4c"/><stop offset="1" stop-color="#a84c4c"/></linearGradient></defs>
<path d="M178.00 329.55 L178.50 326.88 L179.00 323.12 L179.50 321.33 L180.00 318.69 L180.50 315.90 L181.00 314.23 L181.50 312.15 L182.00 309.70 L182.50 308.10 L183.00 306.59 L183.50 307.20 L184.00 305.85 L184.50 306.31 L185.00 305.11 L185.50 304.09 L186.00 303.28 L186.50 303.76 L187.00 302.67 L187.50 303.33 L188.00 302.72 L188.50 302.93 L189.00 302.67 L189.50 304.88 L190.00 304.74 L190.50 305.34 L191.00 306.73 L191.50 306.94 L192.00 308.43 L192.50 307.54 L193.00 308.05 L193.50 307.10 L194.00 306.48 L194.50 306.91 L195.00 306.63 L195.50 307.55 L196.00 307.39 L196.50 307.46 L197.00 306.92 L197.50 306.25 L198.00 306.12 L198.50 306.22 L199.00 305.13 L199.50 304.22 L200.00 303.71 L200.50 303.65 L201.00 303.29 L201.50 304.04 L202.00 302.12 L202.50 301.71 L203.00 302.77 L203.50 303.82 L204.00 303.81 L204.50 303.82 L205.00 304.39 L205.50 304.46 L206.00 304.73 L206.50 303.47 L207.00 303.37 L207.50 302.91 L208.00 303.06 L208.50 302.65 L209.00 302.44 L209.50 305.26 L210.00 305.31 L210.50 305.12 L211.00 304.63 L211.50 304.74 L212.00 304.78 L212.50 304.83 L213.00 304.34 L213.50 304.07 L214.00 302.73 L214.50 302.63 L215.00 301.97 L215.50 301.92 L216.00 301.28 L216.50 299.59 L217.00 299.50 L217.50 299.45 L218.00 298.90 L218.50 297.40 L219.00 297.65 L219.50 297.11 L220.00 296.39 L220.50 296.89 L221.00 294.92 L221.50 294.67 L222.00 294.81 L222.50 294.58 L223.00 294.34 L223.50 295.07 L224.00 295.08 L224.50 294.65 L225.00 294.39 L225.50 293.59 L226.00 293.37 L226.50 295.08 L227.00 294.12 L227.50 295.61 L227.70 438.80 L178.00 438.80 Z" fill="#2478c8"/>
<path d="M52.00 277.08 L52.50 275.91 L53.00 278.25 L53.50 279.11 L54.00 280.22 L54.50 281.30 L55.00 281.52 L55.50 283.48 L56.00 284.89 L56.50 287.83 L57.00 286.97 L57.50 286.93 L58.00 287.52 L58.50 287.91 L59.00 288.36 L59.50 289.49 L60.00 290.69 L60.50 291.13 L61.00 292.33 L61.50 292.43 L62.00 293.27 L62.50 294.88 L63.00 295.19 L63.50 295.33 L64.00 296.38 L64.50 297.90 L65.00 299.48 L65.50 299.15 L66.00 299.93 L66.50 300.97 L67.00 300.48 L67.50 301.25 L68.00 302.49 L68.50 302.86 L69.00 303.06 L69.50 303.45 L70.00 302.25 L70.50 304.37 L71.00 303.31 L71.50 302.68 L72.00 303.68 L72.50 303.85 L73.00 302.93 L73.50 302.35 L74.00 302.77 L74.50 302.83 L75.00 303.57 L75.50 303.19 L76.00 302.79 L76.50 303.07 L77.00 302.19 L77.50 301.68 L78.00 302.46 L78.50 302.46 L79.00 301.82 L79.50 301.41 L80.00 301.58 L80.50 300.28 L81.00 301.85 L81.50 301.77 L82.00 300.53 L82.50 301.15 L83.00 300.81 L83.50 301.37 L84.00 299.87 L84.50 300.36 L85.00 301.46 L85.50 301.47 L86.00 299.56 L86.50 300.23 L87.00 300.74 L87.50 300.41 L88.00 301.27 L88.50 299.87 L89.00 300.27 L89.50 299.76 L90.00 300.88 L90.50 300.14 L91.00 299.51 L91.50 298.93 L92.00 300.70 L92.50 300.42 L93.00 300.34 L93.50 300.74 L94.00 300.44 L94.50 299.97 L95.00 300.01 L95.50 300.50 L96.00 301.79 L96.50 300.62 L97.00 301.13 L97.50 301.83 L98.00 302.62 L98.50 303.07 L99.00 302.30 L99.50 302.36 L100.00 303.90 L100.50 305.18 L101.00 305.35 L101.50 305.28 L102.00 305.33 L102.50 305.97 L103.00 306.20 L103.50 306.69 L104.00 305.91 L104.50 306.28 L105.00 306.31 L105.50 306.65 L106.00 306.79 L106.50 308.08 L107.00 307.69 L107.50 307.17 L108.00 305.16 L108.50 305.79 L109.00 305.94 L109.50 305.83 L110.00 303.42 L110.50 304.06 L111.00 302.93 L111.50 300.29 L112.00 299.06 L112.50 298.12 L113.00 297.56 L113.50 297.11 L114.00 297.20 L114.50 295.46 L115.00 295.13 L115.50 294.43 L116.00 294.64 L116.50 293.65 L117.00 293.04 L117.50 291.08 L118.00 290.67 L118.50 290.04 L119.00 291.72 L119.50 291.75 L120.00 291.44 L120.50 291.75 L121.00 292.58 L121.50 292.32 L122.00 292.61 L122.50 294.09 L123.00 295.58 L123.50 294.48 L124.00 294.70 L124.50 295.14 L125.00 296.05 L125.50 298.11 L126.00 299.31 L126.50 299.73 L127.00 300.69 L127.50 301.47 L128.00 302.05 L128.50 301.83 L129.00 303.07 L129.50 304.15 L130.00 304.39 L130.50 305.14 L131.00 305.72 L131.50 306.82 L132.00 307.78 L132.50 307.20 L133.00 307.38 L133.50 308.04 L134.00 308.21 L134.50 308.46 L135.00 306.61 L135.50 307.91 L136.00 307.53 L136.50 307.89 L137.00 308.47 L137.50 308.75 L138.00 308.70 L138.50 308.36 L139.00 309.00 L139.50 308.05 L140.00 308.08 L140.50 308.57 L141.00 308.19 L141.50 309.65 L142.00 309.43 L142.50 309.82 L143.00 308.59 L143.50 308.24 L144.00 308.66 L144.50 308.98 L145.00 308.38 L145.50 308.85 L146.00 308.95 L146.50 309.72 L147.00 308.73 L147.50 309.40 L148.00 308.56 L148.50 308.25 L149.00 308.37 L149.50 308.30 L150.00 309.24 L150.50 309.89 L151.00 309.56 L151.50 309.92 L152.00 310.50 L152.50 309.78 L153.00 309.52 L153.50 309.07 L154.00 308.45 L154.50 309.49 L155.00 308.47 L155.50 309.61 L156.00 309.59 L156.50 310.09 L157.00 309.39 L157.50 308.92 L158.00 309.47 L158.50 309.07 L159.00 309.23 L159.50 309.39 L160.00 309.30 L160.50 309.17 L161.00 308.84 L161.50 308.95 L162.00 308.03 L162.50 308.94 L163.00 308.88 L163.50 310.32 L164.00 310.41 L164.50 308.76 L165.00 309.76 L165.50 309.83 L166.00 309.50 L166.50 310.36 L167.00 309.87 L167.50 309.22 L168.00 310.11 L168.50 310.49 L169.00 310.60 L169.50 310.11 L170.00 311.22 L170.50 311.39 L171.00 310.38 L171.50 310.63 L172.00 311.09 L172.50 311.22 L173.00 312.60 L173.50 311.97 L174.00 311.25 L174.50 311.53 L175.00 312.48 L175.50 313.94 L176.00 312.90 L176.50 313.05 L177.00 313.46 L177.50 313.61 L178.00 314.80 L178.50 313.52 L179.00 314.00 L179.50 313.91 L180.00 313.99 L180.50 313.33 L181.00 314.82 L181.50 314.06 L182.00 314.01 L182.00 438.80 L52.00 438.80 Z" fill="url(#redg)"/>
<path d="M52.00 281.84 L52.50 282.29 L53.00 283.42 L53.50 284.52 L54.00 285.46 L54.50 285.66 L55.00 285.92 L55.50 286.54 L56.00 287.92 L56.50 288.98 L57.00 288.98 L57.50 288.89 L58.00 289.75 L58.50 291.45 L59.00 291.55 L59.50 291.39 L60.00 292.55 L60.50 292.92 L61.00 293.75 L61.50 294.51 L62.00 295.20 L62.50 296.36 L63.00 296.82 L63.50 297.29 L64.00 298.40 L64.50 299.10 L65.00 298.75 L65.50 299.69 L66.00 300.14 L66.50 300.94 L67.00 301.21 L67.50 302.28 L68.00 302.93 L68.50 303.34 L69.00 303.63 L69.50 304.39 L70.00 304.71 L70.50 305.20 L71.00 306.10 L71.50 306.15 L72.00 307.34 L72.50 307.44 L73.00 306.72 L73.50 307.72 L74.00 307.72 L74.50 308.44 L75.00 308.70 L75.50 308.28 L76.00 309.22 L76.50 309.78 L77.00 310.50 L77.50 310.17 L78.00 311.07 L78.50 310.84 L79.00 311.36 L79.50 311.74 L80.00 313.00 L80.50 313.31 L81.00 314.12 L81.50 313.58 L82.00 313.60 L82.50 313.58 L83.00 313.07 L83.50 313.39 L84.00 314.00 L84.50 313.47 L85.00 313.65 L85.50 313.74 L86.00 314.01 L86.50 313.73 L87.00 314.23 L87.50 315.44 L88.00 316.36 L88.50 317.08 L89.00 318.71 L89.50 319.10 L90.00 320.18 L90.50 321.55 L91.00 323.74 L91.50 325.01 L92.00 326.35 L92.50 328.08 L93.00 330.23 L93.50 330.78 L94.00 331.82 L94.50 333.58 L95.00 334.11 L95.50 335.47 L96.00 336.74 L96.50 337.70 L97.00 339.05 L97.50 341.34 L98.00 342.38 L98.50 343.66 L99.00 345.27 L99.50 347.73 L100.00 349.65 L100.50 351.65 L101.00 353.18 L101.50 354.89 L102.00 356.60 L102.50 358.53 L103.00 360.60 L103.50 362.40 L104.00 364.66 L104.50 367.33 L105.00 368.63 L105.50 369.83 L106.00 372.96 L106.50 374.46 L107.00 375.88 L107.50 378.46 L108.00 380.12 L108.50 381.72 L109.00 383.58 L109.50 385.45 L110.00 387.91 L110.50 390.28 L111.00 391.69 L111.50 393.81 L112.00 396.05 L112.50 396.71 L113.00 398.85 L113.50 400.44 L114.00 401.86 L114.50 403.68 L115.00 405.95 L115.50 406.85 L116.00 407.21 L116.50 408.14 L117.00 409.15 L117.50 409.76 L118.00 410.64 L118.50 411.21 L119.00 412.00 L119.50 413.19 L120.00 413.43 L120.50 413.73 L121.00 414.39 L121.50 414.33 L122.00 415.11 L122.50 416.21 L123.00 416.87 L123.50 417.71 L124.00 417.56 L124.50 417.58 L125.00 419.22 L125.50 419.27 L126.00 418.78 L126.50 419.89 L127.00 419.67 L127.50 419.19 L128.00 419.98 L128.50 420.54 L129.00 421.60 L129.50 421.09 L130.00 421.47 L130.50 421.83 L131.00 422.07 L131.50 422.25 L132.00 423.11 L132.50 423.87 L133.00 423.95 L133.50 423.55 L134.00 424.10 L134.50 425.24 L135.00 425.65 L135.50 426.20 L136.00 426.70 L136.50 428.80 L137.00 429.11 L137.50 428.98 L138.00 430.33 L138.50 431.01 L139.00 430.18 L139.50 431.34 L140.00 431.34 L140.50 431.44 L141.00 430.88 L141.50 430.48 L142.00 430.40 L142.50 430.98 L143.00 430.86 L143.50 429.48 L144.00 429.19 L144.50 430.26 L145.00 428.77 L145.50 428.51 L146.00 428.10 L146.50 427.50 L147.00 426.84 L147.50 425.62 L148.00 424.23 L148.50 423.83 L149.00 423.07 L149.50 422.73 L150.00 421.04 L150.50 418.83 L151.00 417.55 L151.50 417.01 L152.00 414.71 L152.50 412.48 L153.00 411.58 L153.50 410.55 L154.00 409.44 L154.50 407.20 L155.00 406.28 L155.50 404.85 L156.00 402.74 L156.50 401.24 L157.00 400.37 L157.50 398.67 L158.00 396.47 L158.50 394.47 L159.00 392.92 L159.50 390.65 L160.00 388.74 L160.50 386.71 L161.00 385.26 L161.50 383.75 L162.00 383.00 L162.50 380.27 L163.00 378.92 L163.50 377.17 L164.00 374.85 L164.50 373.29 L165.00 370.34 L165.50 369.37 L166.00 367.86 L166.50 364.82 L167.00 363.52 L167.50 362.72 L168.00 360.48 L168.50 358.25 L169.00 356.66 L169.50 354.93 L170.00 353.63 L170.50 351.74 L171.00 349.54 L171.50 347.54 L172.00 346.07 L172.50 344.83 L173.00 342.71 L173.50 340.61 L174.00 338.10 L174.50 335.49 L175.00 333.67 L175.50 332.18 L176.00 329.88 L176.50 327.24 L177.00 324.90 L177.50 323.67 L178.00 322.50 L178.50 321.35 L179.00 320.29 L179.50 319.46 L180.00 318.45 L180.50 317.63 L181.00 316.59 L181.50 316.22 L182.00 315.43 L182.50 314.41 L183.00 313.99 L183.50 313.69 L184.00 312.95 L184.50 312.94 L185.00 312.75 L185.50 311.49 L186.00 310.77 L186.50 311.88 L187.00 312.16 L187.50 312.71 L188.00 312.61 L188.50 314.22 L189.00 314.74 L189.50 315.05 L190.00 315.71 L190.50 317.15 L191.00 320.27 L191.50 323.35 L192.00 326.37 L192.50 330.46 L193.00 332.95 L193.50 335.75 L194.00 338.43 L194.50 340.44 L195.00 344.30 L195.50 347.02 L196.00 349.85 L196.50 352.68 L197.00 355.15 L197.50 358.49 L198.00 360.69 L198.50 363.23 L199.00 366.06 L199.50 369.31 L200.00 372.29 L200.50 374.26 L201.00 376.54 L201.50 380.01 L202.00 382.05 L202.50 385.35 L203.00 387.52 L203.50 389.72 L204.00 387.70 L204.50 384.97 L205.00 381.91 L205.50 378.31 L206.00 375.57 L206.50 372.23 L207.00 367.48 L207.50 363.14 L208.00 359.33 L208.50 357.05 L209.00 355.15 L209.50 352.92 L210.00 350.60 L210.50 348.92 L211.00 345.59 L211.50 345.29 L212.00 345.90 L212.50 344.82 L213.00 343.63 L213.50 342.78 L214.00 342.38 L214.50 341.02 L215.00 339.74 L215.50 338.34 L216.00 337.81 L216.50 337.01 L217.00 336.37 L217.50 335.83 L218.00 335.50 L218.50 334.92 L219.00 334.65 L219.50 333.27 L220.00 333.17 L220.50 333.41 L221.00 332.26 L221.50 332.31 L222.00 332.08 L222.50 331.79 L223.00 331.07 L223.50 329.87 L224.00 329.87 L224.50 329.50 L225.00 328.75 L225.50 328.79 L226.00 328.21 L226.50 327.83 L227.00 328.32 L227.50 328.08 L227.70 438.80 L52.00 438.80 Z" fill="#1e60b0"/>
<path d="M52.00 281.84 L52.50 282.29 L53.00 283.42 L53.50 284.52 L54.00 285.46 L54.50 285.66 L55.00 285.92 L55.50 286.54 L56.00 287.92 L56.50 288.98 L57.00 288.98 L57.50 288.89 L58.00 289.75 L58.50 291.45 L59.00 291.55 L59.50 291.39 L60.00 292.55 L60.50 292.92 L61.00 293.75 L61.50 294.51 L62.00 295.20 L62.50 296.36 L63.00 296.82 L63.50 297.29 L64.00 298.40 L64.50 299.10 L65.00 298.75 L65.50 299.69 L66.00 300.14 L66.50 300.94 L67.00 301.21 L67.50 302.28 L68.00 302.93 L68.50 303.34 L69.00 303.63 L69.50 304.39 L70.00 304.71 L70.50 305.20 L71.00 306.10 L71.50 306.15 L72.00 307.34 L72.50 307.44 L73.00 306.72 L73.50 307.72 L74.00 307.72 L74.50 308.44 L75.00 308.70 L75.50 308.28 L76.00 309.22 L76.50 309.78 L77.00 310.50 L77.50 310.17 L78.00 311.07 L78.50 310.84 L79.00 311.36 L79.50 311.74 L80.00 313.00 L80.50 313.31 L81.00 314.12 L81.50 313.58 L82.00 313.60 L82.50 313.58 L83.00 313.07 L83.50 313.39 L84.00 314.00 L84.50 313.47 L85.00 313.65 L85.50 313.74 L86.00 314.01 L86.50 313.73 L87.00 314.23 L87.50 315.44 L88.00 316.36 L88.50 317.08 L89.00 318.71 L89.50 319.10 L90.00 320.18 L90.50 321.55 L91.00 323.74 L91.50 325.01 L92.00 326.35 L92.50 328.08 L93.00 330.23 L93.50 330.78 L94.00 331.82 L94.50 333.58 L95.00 334.11 L95.50 335.47" fill="none" stroke="#16243a" stroke-width="0.75" opacity="0.9"/>
<path d="M183.50 307.20 L184.00 305.85 L184.50 306.31 L185.00 305.11 L185.50 304.09 L186.00 303.28 L186.50 303.76 L187.00 302.67 L187.50 303.33 L188.00 302.72 L188.50 302.93 L189.00 302.67 L189.50 304.88 L190.00 304.74 L190.50 305.34 L191.00 306.73 L191.50 306.94 L192.00 308.43 L192.50 307.54 L193.00 308.05 L193.50 307.10 L194.00 306.48 L194.50 306.91 L195.00 306.63 L195.50 307.55 L196.00 307.39 L196.50 307.46 L197.00 306.92 L197.50 306.25 L198.00 306.12 L198.50 306.22 L199.00 305.13 L199.50 304.22 L200.00 303.71 L200.50 303.65 L201.00 303.29 L201.50 304.04 L202.00 302.12 L202.50 301.71 L203.00 302.77 L203.50 303.82 L204.00 303.81 L204.50 303.82 L205.00 304.39 L205.50 304.46 L206.00 304.73 L206.50 303.47 L207.00 303.37 L207.50 302.91 L208.00 303.06 L208.50 302.65 L209.00 302.44 L209.50 305.26 L210.00 305.31 L210.50 305.12 L211.00 304.63 L211.50 304.74 L212.00 304.78 L212.50 304.83 L213.00 304.34 L213.50 304.07 L214.00 302.73 L214.50 302.63 L215.00 301.97 L215.50 301.92 L216.00 301.28 L216.50 299.59 L217.00 299.50 L217.50 299.45 L218.00 298.90 L218.50 297.40 L219.00 297.65 L219.50 297.11 L220.00 296.39 L220.50 296.89 L221.00 294.92 L221.50 294.67 L222.00 294.81 L222.50 294.58 L223.00 294.34 L223.50 295.07 L224.00 295.08 L224.50 294.65 L225.00 294.39 L225.50 293.59 L226.00 293.37 L226.50 295.08 L227.00 294.12 L227.50 295.61" fill="none" stroke="#16243a" stroke-width="0.75" opacity="0.9"/>
<path d="M52.00 277.08 L52.50 275.91 L53.00 278.25 L53.50 279.11 L54.00 280.22 L54.50 281.30 L55.00 281.52 L55.50 283.48 L56.00 284.89 L56.50 287.83 L57.00 286.97 L57.50 286.93 L58.00 287.52 L58.50 287.91 L59.00 288.36 L59.50 289.49 L60.00 290.69 L60.50 291.13 L61.00 292.33 L61.50 292.43 L62.00 293.27 L62.50 294.88 L63.00 295.19 L63.50 295.33 L64.00 296.38 L64.50 297.90 L65.00 299.48 L65.50 299.15 L66.00 299.93 L66.50 300.97 L67.00 300.48 L67.50 301.25 L68.00 302.49 L68.50 302.86 L69.00 303.06 L69.50 303.45 L70.00 302.25 L70.50 304.37 L71.00 303.31 L71.50 302.68 L72.00 303.68 L72.50 303.85 L73.00 302.93 L73.50 302.35 L74.00 302.77 L74.50 302.83 L75.00 303.57 L75.50 303.19 L76.00 302.79 L76.50 303.07 L77.00 302.19 L77.50 301.68 L78.00 302.46 L78.50 302.46 L79.00 301.82 L79.50 301.41 L80.00 301.58 L80.50 300.28 L81.00 301.85 L81.50 301.77 L82.00 300.53 L82.50 301.15 L83.00 300.81 L83.50 301.37 L84.00 299.87 L84.50 300.36 L85.00 301.46 L85.50 301.47 L86.00 299.56 L86.50 300.23 L87.00 300.74 L87.50 300.41 L88.00 301.27 L88.50 299.87 L89.00 300.27 L89.50 299.76 L90.00 300.88 L90.50 300.14 L91.00 299.51 L91.50 298.93 L92.00 300.70 L92.50 300.42 L93.00 300.34 L93.50 300.74 L94.00 300.44 L94.50 299.97 L95.00 300.01 L95.50 300.50 L96.00 301.79 L96.50 300.62 L97.00 301.13 L97.50 301.83 L98.00 302.62 L98.50 303.07 L99.00 302.30 L99.50 302.36 L100.00 303.90 L100.50 305.18 L101.00 305.35 L101.50 305.28 L102.00 305.33 L102.50 305.97 L103.00 306.20 L103.50 306.69 L104.00 305.91 L104.50 306.28 L105.00 306.31 L105.50 306.65 L106.00 306.79 L106.50 308.08 L107.00 307.69 L107.50 307.17 L108.00 305.16 L108.50 305.79 L109.00 305.94 L109.50 305.83 L110.00 303.42 L110.50 304.06 L111.00 302.93 L111.50 300.29 L112.00 299.06 L112.50 298.12 L113.00 297.56 L113.50 297.11 L114.00 297.20 L114.50 295.46 L115.00 295.13 L115.50 294.43 L116.00 294.64 L116.50 293.65 L117.00 293.04 L117.50 291.08 L118.00 290.67 L118.50 290.04 L119.00 291.72 L119.50 291.75 L120.00 291.44 L120.50 291.75 L121.00 292.58 L121.50 292.32 L122.00 292.61 L122.50 294.09 L123.00 295.58 L123.50 294.48 L124.00 294.70 L124.50 295.14 L125.00 296.05 L125.50 298.11 L126.00 299.31 L126.50 299.73 L127.00 300.69 L127.50 301.47 L128.00 302.05 L128.50 301.83 L129.00 303.07 L129.50 304.15 L130.00 304.39 L130.50 305.14 L131.00 305.72 L131.50 306.82 L132.00 307.78 L132.50 307.20 L133.00 307.38 L133.50 308.04 L134.00 308.21 L134.50 308.46 L135.00 306.61 L135.50 307.91 L136.00 307.53 L136.50 307.89 L137.00 308.47 L137.50 308.75 L138.00 308.70 L138.50 308.36 L139.00 309.00 L139.50 308.05 L140.00 308.08 L140.50 308.57 L141.00 308.19 L141.50 309.65 L142.00 309.43 L142.50 309.82 L143.00 308.59 L143.50 308.24 L144.00 308.66 L144.50 308.98 L145.00 308.38 L145.50 308.85 L146.00 308.95 L146.50 309.72 L147.00 308.73 L147.50 309.40 L148.00 308.56 L148.50 308.25 L149.00 308.37 L149.50 308.30 L150.00 309.24 L150.50 309.89 L151.00 309.56 L151.50 309.92 L152.00 310.50 L152.50 309.78 L153.00 309.52 L153.50 309.07 L154.00 308.45 L154.50 309.49 L155.00 308.47 L155.50 309.61 L156.00 309.59 L156.50 310.09 L157.00 309.39 L157.50 308.92 L158.00 309.47 L158.50 309.07 L159.00 309.23 L159.50 309.39 L160.00 309.30 L160.50 309.17 L161.00 308.84 L161.50 308.95 L162.00 308.03 L162.50 308.94 L163.00 308.88 L163.50 310.32 L164.00 310.41 L164.50 308.76 L165.00 309.76 L165.50 309.83 L166.00 309.50 L166.50 310.36 L167.00 309.87 L167.50 309.22 L168.00 310.11 L168.50 310.49 L169.00 310.60 L169.50 310.11 L170.00 311.22 L170.50 311.39 L171.00 310.38 L171.50 310.63 L172.00 311.09 L172.50 311.22 L173.00 312.60 L173.50 311.97 L174.00 311.25 L174.50 311.53 L175.00 312.48 L175.50 313.94 L176.00 312.90 L176.50 313.05 L177.00 313.46 L177.50 313.61 L178.00 314.80 L178.50 313.52 L179.00 314.00 L179.50 313.91 L180.00 313.99 L180.50 313.33 L181.00 314.82 L181.50 314.06 L182.00 314.01" fill="none" stroke="#ff3030" stroke-width="0.6" opacity="0.6"/>
<line x1="51.8" y1="264.5" x2="51.8" y2="441.8" stroke="#a0a0a0" stroke-width="1"/>
<line x1="227.7" y1="264.5" x2="227.7" y2="438.8" stroke="#a0a0a0" stroke-width="1"/>
<line x1="51.3" y1="264.5" x2="228.2" y2="264.5" stroke="#555" stroke-width="1.1"/>
<line x1="51.8" y1="438.8" x2="227.7" y2="438.8" stroke="#173a70" stroke-width="1"/>
<line x1="48.8" y1="264.5" x2="51.8" y2="264.5" stroke="#444" stroke-width="0.9"/>
<text x="43.5" y="269.0" font-size="13" text-anchor="end" font-family="Liberation Sans, sans-serif">0</text>
<line x1="48.8" y1="299.2" x2="51.8" y2="299.2" stroke="#444" stroke-width="0.9"/>
<text x="43.5" y="303.7" font-size="13" text-anchor="end" font-family="Liberation Sans, sans-serif">–10</text>
<line x1="48.8" y1="333.9" x2="51.8" y2="333.9" stroke="#444" stroke-width="0.9"/>
<text x="43.5" y="338.4" font-size="13" text-anchor="end" font-family="Liberation Sans, sans-serif">–20</text>
<line x1="48.8" y1="368.6" x2="51.8" y2="368.6" stroke="#444" stroke-width="0.9"/>
<text x="43.5" y="373.1" font-size="13" text-anchor="end" font-family="Liberation Sans, sans-serif">–30</text>
<line x1="48.8" y1="403.3" x2="51.8" y2="403.3" stroke="#444" stroke-width="0.9"/>
<text x="43.5" y="407.8" font-size="13" text-anchor="end" font-family="Liberation Sans, sans-serif">–40</text>
<line x1="48.8" y1="438.0" x2="51.8" y2="438.0" stroke="#444" stroke-width="0.9"/>
<text x="43.5" y="442.5" font-size="13" text-anchor="end" font-family="Liberation Sans, sans-serif">–50</text>
<line x1="52.3" y1="438.8" x2="52.3" y2="441.8" stroke="#8a8a8a" stroke-width="0.9"/>
<text x="52.3" y="457.8" font-size="13" text-anchor="middle" font-family="Liberation Sans, sans-serif">4.8</text>
<line x1="91.4" y1="438.8" x2="91.4" y2="441.8" stroke="#8a8a8a" stroke-width="0.9"/>
<text x="91.4" y="457.8" font-size="13" text-anchor="middle" font-family="Liberation Sans, sans-serif">5.2</text>
<line x1="130.5" y1="438.8" x2="130.5" y2="441.8" stroke="#8a8a8a" stroke-width="0.9"/>
<text x="130.5" y="457.8" font-size="13" text-anchor="middle" font-family="Liberation Sans, sans-serif">5.6</text>
<line x1="169.7" y1="438.8" x2="169.7" y2="441.8" stroke="#8a8a8a" stroke-width="0.9"/>
<text x="169.7" y="457.8" font-size="13" text-anchor="middle" font-family="Liberation Sans, sans-serif">6</text>
<line x1="208.8" y1="438.8" x2="208.8" y2="441.8" stroke="#8a8a8a" stroke-width="0.9"/>
<text x="208.8" y="457.8" font-size="13" text-anchor="middle" font-family="Liberation Sans, sans-serif">6.4</text>
<line x1="71.9" y1="438.8" x2="71.9" y2="441.8" stroke="#8a8a8a" stroke-width="0.9"/>
<line x1="111.0" y1="438.8" x2="111.0" y2="441.8" stroke="#8a8a8a" stroke-width="0.9"/>
<line x1="150.1" y1="438.8" x2="150.1" y2="441.8" stroke="#8a8a8a" stroke-width="0.9"/>
<line x1="189.2" y1="438.8" x2="189.2" y2="441.8" stroke="#8a8a8a" stroke-width="0.9"/>
<line x1="227.7" y1="438.8" x2="227.7" y2="441.8" stroke="#8a8a8a" stroke-width="0.9"/>
<line x1="49.3" y1="281.9" x2="51.8" y2="281.9" stroke="#444" stroke-width="0.9"/>
<line x1="49.3" y1="316.6" x2="51.8" y2="316.6" stroke="#444" stroke-width="0.9"/>
<line x1="49.3" y1="351.2" x2="51.8" y2="351.2" stroke="#444" stroke-width="0.9"/>
<line x1="49.3" y1="386.0" x2="51.8" y2="386.0" stroke="#444" stroke-width="0.9"/>
<line x1="49.3" y1="420.6" x2="51.8" y2="420.6" stroke="#444" stroke-width="0.9"/>
<text x="139.2" y="475.9" font-size="13" text-anchor="middle" font-family="Liberation Sans, sans-serif">Frequency (kHz)</text>
<text transform="translate(10.2,352.6) rotate(-90)" font-size="13" text-anchor="middle" font-family="Liberation Sans, sans-serif">Transmission (dB)</text>
<rect x="97.2" y="261.1" width="77.0" height="180.4" fill="none" stroke="#111" stroke-width="1.6" stroke-dasharray="5.6 4.6"/>
<text x="138.2" y="329.4" font-size="11.7" text-anchor="middle" font-family="Liberation Sans, sans-serif">Top</text>
<text x="205.3" y="427.0" font-size="11.5" text-anchor="middle" font-family="Liberation Sans, sans-serif">Bottom</text>
<defs><filter id="bl1" x="-20%" y="-20%" width="140%" height="140%"><feGaussianBlur stdDeviation="0.9"/></filter><filter id="bl05" x="-20%" y="-20%" width="140%" height="140%"><feGaussianBlur stdDeviation="0.5"/></filter><filter id="bl03" x="-20%" y="-20%" width="140%" height="140%"><feGaussianBlur stdDeviation="0.35"/></filter><filter id="bl08" x="-20%" y="-20%" width="140%" height="140%"><feGaussianBlur stdDeviation="0.75"/></filter><linearGradient id="pbar" x1="0" y1="0" x2="0" y2="1"><stop offset="0" stop-color="#ff0000"/><stop offset="0.5" stop-color="#ffffff"/><stop offset="1" stop-color="#0000ff"/></linearGradient></defs>
<path d="M359.00 332.50 L382.00 322.50 L378.34 444.20 L355.80 454.00 Z" fill="#f4f4f6"/>
<path d="M283.90 291.00 L359.00 332.50 L355.80 454.00 L285.90 413.00 Z" fill="#f9f9fb"/>
<path d="M284.77 291.98 L293.78 296.96 L293.87 306.11 L284.91 301.13 Z" fill="#f0b8b8" opacity="0.80" filter="url(#bl03)"/>
<path d="M284.93 302.15 L293.89 307.12 L293.98 316.27 L285.07 311.30 Z" fill="#f4caca" opacity="0.60" filter="url(#bl03)"/>
<path d="M295.59 308.07 L304.55 313.05 L304.59 322.19 L295.68 317.22 Z" fill="#f2c0c0" opacity="0.80" filter="url(#bl03)"/>
<path d="M306.26 313.99 L315.21 318.97 L315.20 328.10 L306.29 323.13 Z" fill="#b8b8f4" opacity="0.85" filter="url(#bl03)"/>
<path d="M316.89 330.06 L325.80 335.03 L325.73 344.16 L316.87 339.20 Z" fill="#f2c0c0" opacity="0.80" filter="url(#bl03)"/>
<path d="M338.10 341.90 L347.00 346.87 L346.82 355.98 L337.97 351.02 Z" fill="#bcbcf4" opacity="0.80" filter="url(#bl03)"/>
<path d="M348.49 357.94 L357.34 362.91 L357.11 372.02 L348.30 367.06 Z" fill="#f0c4c4" opacity="0.70" filter="url(#bl03)"/>
<path d="M295.69 318.23 L304.60 323.20 L304.64 332.34 L295.78 327.38 Z" fill="#f6d4d4" opacity="0.50" filter="url(#bl03)"/>
<path d="M327.41 346.12 L336.26 351.09 L336.14 360.21 L327.33 355.25 Z" fill="#c8c8f6" opacity="0.50" filter="url(#bl03)"/>
<path d="M306.33 334.30 L315.18 339.27 L315.17 348.40 L306.37 343.44 Z" fill="#d8d8f8" opacity="0.50" filter="url(#bl03)"/>
<path d="M348.91 337.68 L357.87 342.66 L357.63 351.77 L348.72 346.80 Z" fill="#c0c0f4" opacity="0.70" filter="url(#bl03)"/>
<path d="M336.92 422.99 L345.41 427.92 L345.23 437.04 L336.78 432.11 Z" fill="#c4c4f4" opacity="0.80" filter="url(#bl03)"/>
<path d="M326.81 417.12 L335.30 422.05 L335.17 431.17 L326.73 426.25 Z" fill="#d0d0f6" opacity="0.60" filter="url(#bl03)"/>
<path d="M347.02 428.86 L355.51 433.79 L355.28 442.90 L346.83 437.97 Z" fill="#f0c8c8" opacity="0.60" filter="url(#bl03)"/>
<path d="M336.77 433.12 L345.21 438.05 L345.03 447.17 L336.63 442.25 Z" fill="#b8b8f2" opacity="0.80" filter="url(#bl03)"/>
<path d="M326.72 427.26 L335.16 432.19 L335.04 441.31 L326.65 436.39 Z" fill="#c0c0f4" opacity="0.80" filter="url(#bl03)"/>
<path d="M316.68 421.40 L325.12 426.32 L325.05 435.45 L316.66 430.53 Z" fill="#d4d4f8" opacity="0.60" filter="url(#bl03)"/>
<path d="M347.44 408.60 L356.03 413.54 L355.80 422.65 L347.25 417.71 Z" fill="#f4d4d4" opacity="0.50" filter="url(#bl03)"/>
<path d="M316.73 401.10 L325.27 406.04 L325.20 415.17 L316.71 410.24 Z" fill="#f4d8d8" opacity="0.40" filter="url(#bl03)"/>
<line x1="283.90" y1="291.00" x2="285.90" y2="413.00" stroke="#d0d0d6" stroke-width="2.2"/>
<line x1="284.30" y1="291.00" x2="286.40" y2="413.00" stroke="#fcfcfc" stroke-width="0.7"/>
<line x1="294.63" y1="296.93" x2="295.89" y2="418.86" stroke="#d0d0d6" stroke-width="2.2"/>
<line x1="295.03" y1="296.93" x2="296.39" y2="418.86" stroke="#fcfcfc" stroke-width="0.7"/>
<line x1="305.36" y1="302.86" x2="305.87" y2="424.71" stroke="#d0d0d6" stroke-width="2.2"/>
<line x1="305.76" y1="302.86" x2="306.37" y2="424.71" stroke="#fcfcfc" stroke-width="0.7"/>
<line x1="316.09" y1="308.79" x2="315.86" y2="430.57" stroke="#d0d0d6" stroke-width="2.2"/>
<line x1="316.49" y1="308.79" x2="316.36" y2="430.57" stroke="#fcfcfc" stroke-width="0.7"/>
<line x1="326.81" y1="314.71" x2="325.84" y2="436.43" stroke="#d0d0d6" stroke-width="2.2"/>
<line x1="327.21" y1="314.71" x2="326.34" y2="436.43" stroke="#fcfcfc" stroke-width="0.7"/>
<line x1="337.54" y1="320.64" x2="335.83" y2="442.29" stroke="#d0d0d6" stroke-width="2.2"/>
<line x1="337.94" y1="320.64" x2="336.33" y2="442.29" stroke="#fcfcfc" stroke-width="0.7"/>
<line x1="348.27" y1="326.57" x2="345.81" y2="448.14" stroke="#d0d0d6" stroke-width="2.2"/>
<line x1="348.67" y1="326.57" x2="346.31" y2="448.14" stroke="#fcfcfc" stroke-width="0.7"/>
<line x1="359.00" y1="332.50" x2="355.80" y2="454.00" stroke="#d0d0d6" stroke-width="2.2"/>
<line x1="359.40" y1="332.50" x2="356.30" y2="454.00" stroke="#fcfcfc" stroke-width="0.7"/>
<line x1="287.47" y1="298.06" x2="296.47" y2="302.96" stroke="#9a9aa2" stroke-width="0.8"/>
<ellipse cx="292.97" cy="301.06" rx="1.5" ry="1.2" fill="#8a8a94"/>
<line x1="285.34" y1="293.00" x2="289.54" y2="295.30" stroke="#aeaeb6" stroke-width="0.7"/>
<line x1="298.17" y1="303.99" x2="307.17" y2="308.89" stroke="#9a9aa2" stroke-width="0.8"/>
<ellipse cx="303.67" cy="306.99" rx="1.5" ry="1.2" fill="#8a8a94"/>
<line x1="296.06" y1="298.93" x2="300.26" y2="301.23" stroke="#aeaeb6" stroke-width="0.7"/>
<line x1="308.86" y1="309.91" x2="317.86" y2="314.81" stroke="#9a9aa2" stroke-width="0.8"/>
<ellipse cx="314.36" cy="312.91" rx="1.5" ry="1.2" fill="#8a8a94"/>
<line x1="306.78" y1="304.85" x2="310.98" y2="307.15" stroke="#aeaeb6" stroke-width="0.7"/>
<line x1="319.56" y1="315.84" x2="328.56" y2="320.74" stroke="#9a9aa2" stroke-width="0.8"/>
<ellipse cx="325.06" cy="318.84" rx="1.5" ry="1.2" fill="#8a8a94"/>
<line x1="317.50" y1="310.78" x2="321.70" y2="313.08" stroke="#aeaeb6" stroke-width="0.7"/>
<line x1="330.26" y1="321.76" x2="339.26" y2="326.66" stroke="#9a9aa2" stroke-width="0.8"/>
<ellipse cx="335.76" cy="324.76" rx="1.5" ry="1.2" fill="#8a8a94"/>
<line x1="328.22" y1="316.71" x2="332.42" y2="319.01" stroke="#aeaeb6" stroke-width="0.7"/>
<line x1="340.96" y1="327.69" x2="349.96" y2="332.59" stroke="#9a9aa2" stroke-width="0.8"/>
<ellipse cx="346.46" cy="330.69" rx="1.5" ry="1.2" fill="#8a8a94"/>
<line x1="338.94" y1="322.64" x2="343.14" y2="324.94" stroke="#aeaeb6" stroke-width="0.7"/>
<line x1="351.66" y1="333.61" x2="360.66" y2="338.51" stroke="#9a9aa2" stroke-width="0.8"/>
<ellipse cx="357.16" cy="336.61" rx="1.5" ry="1.2" fill="#8a8a94"/>
<line x1="349.66" y1="328.57" x2="353.86" y2="330.87" stroke="#aeaeb6" stroke-width="0.7"/>
<line x1="287.58" y1="308.22" x2="296.58" y2="313.12" stroke="#9a9aa2" stroke-width="0.8"/>
<ellipse cx="293.08" cy="311.22" rx="1.5" ry="1.2" fill="#8a8a94"/>
<line x1="285.48" y1="303.16" x2="289.68" y2="305.46" stroke="#aeaeb6" stroke-width="0.7"/>
<line x1="298.22" y1="314.14" x2="307.22" y2="319.04" stroke="#9a9aa2" stroke-width="0.8"/>
<ellipse cx="303.72" cy="317.14" rx="1.5" ry="1.2" fill="#8a8a94"/>
<line x1="296.14" y1="309.09" x2="300.34" y2="311.39" stroke="#aeaeb6" stroke-width="0.7"/>
<line x1="308.86" y1="320.06" x2="317.86" y2="324.96" stroke="#9a9aa2" stroke-width="0.8"/>
<ellipse cx="314.36" cy="323.06" rx="1.5" ry="1.2" fill="#8a8a94"/>
<line x1="306.80" y1="315.01" x2="311.00" y2="317.31" stroke="#aeaeb6" stroke-width="0.7"/>
<line x1="319.49" y1="325.98" x2="328.49" y2="330.88" stroke="#9a9aa2" stroke-width="0.8"/>
<ellipse cx="324.99" cy="328.98" rx="1.5" ry="1.2" fill="#8a8a94"/>
<line x1="317.46" y1="320.93" x2="321.66" y2="323.23" stroke="#aeaeb6" stroke-width="0.7"/>
<line x1="330.13" y1="331.90" x2="339.13" y2="336.80" stroke="#9a9aa2" stroke-width="0.8"/>
<ellipse cx="335.63" cy="334.90" rx="1.5" ry="1.2" fill="#8a8a94"/>
<line x1="328.12" y1="326.85" x2="332.32" y2="329.15" stroke="#aeaeb6" stroke-width="0.7"/>
<line x1="340.76" y1="337.82" x2="349.76" y2="342.72" stroke="#9a9aa2" stroke-width="0.8"/>
<ellipse cx="346.26" cy="340.82" rx="1.5" ry="1.2" fill="#8a8a94"/>
<line x1="338.78" y1="332.77" x2="342.98" y2="335.07" stroke="#aeaeb6" stroke-width="0.7"/>
<line x1="351.40" y1="343.74" x2="360.40" y2="348.64" stroke="#9a9aa2" stroke-width="0.8"/>
<ellipse cx="356.90" cy="346.74" rx="1.5" ry="1.2" fill="#8a8a94"/>
<line x1="349.44" y1="338.69" x2="353.64" y2="340.99" stroke="#aeaeb6" stroke-width="0.7"/>
<line x1="287.70" y1="318.38" x2="296.70" y2="323.28" stroke="#9a9aa2" stroke-width="0.8"/>
<ellipse cx="293.20" cy="321.38" rx="1.5" ry="1.2" fill="#8a8a94"/>
<line x1="285.63" y1="313.33" x2="289.83" y2="315.63" stroke="#aeaeb6" stroke-width="0.7"/>
<line x1="298.27" y1="324.30" x2="307.27" y2="329.20" stroke="#9a9aa2" stroke-width="0.8"/>
<ellipse cx="303.77" cy="327.30" rx="1.5" ry="1.2" fill="#8a8a94"/>
<line x1="296.23" y1="319.24" x2="300.43" y2="321.54" stroke="#aeaeb6" stroke-width="0.7"/>
<line x1="308.85" y1="330.21" x2="317.85" y2="335.11" stroke="#9a9aa2" stroke-width="0.8"/>
<ellipse cx="314.35" cy="333.21" rx="1.5" ry="1.2" fill="#8a8a94"/>
<line x1="306.83" y1="325.16" x2="311.03" y2="327.46" stroke="#aeaeb6" stroke-width="0.7"/>
<line x1="319.42" y1="336.13" x2="328.42" y2="341.03" stroke="#9a9aa2" stroke-width="0.8"/>
<ellipse cx="324.92" cy="339.13" rx="1.5" ry="1.2" fill="#8a8a94"/>
<line x1="317.42" y1="331.08" x2="321.62" y2="333.38" stroke="#aeaeb6" stroke-width="0.7"/>
<line x1="329.99" y1="342.04" x2="338.99" y2="346.94" stroke="#9a9aa2" stroke-width="0.8"/>
<ellipse cx="335.49" cy="345.04" rx="1.5" ry="1.2" fill="#8a8a94"/>
<line x1="328.02" y1="336.99" x2="332.22" y2="339.29" stroke="#aeaeb6" stroke-width="0.7"/>
<line x1="340.57" y1="347.95" x2="349.57" y2="352.85" stroke="#9a9aa2" stroke-width="0.8"/>
<ellipse cx="346.07" cy="350.95" rx="1.5" ry="1.2" fill="#8a8a94"/>
<line x1="338.62" y1="342.91" x2="342.82" y2="345.21" stroke="#aeaeb6" stroke-width="0.7"/>
<line x1="351.14" y1="353.87" x2="360.14" y2="358.77" stroke="#9a9aa2" stroke-width="0.8"/>
<ellipse cx="356.64" cy="356.87" rx="1.5" ry="1.2" fill="#8a8a94"/>
<line x1="349.22" y1="348.82" x2="353.42" y2="351.12" stroke="#aeaeb6" stroke-width="0.7"/>
<line x1="287.81" y1="328.55" x2="296.81" y2="333.45" stroke="#9a9aa2" stroke-width="0.8"/>
<ellipse cx="293.31" cy="331.55" rx="1.5" ry="1.2" fill="#8a8a94"/>
<line x1="285.78" y1="323.49" x2="289.98" y2="325.79" stroke="#aeaeb6" stroke-width="0.7"/>
<line x1="298.33" y1="334.45" x2="307.33" y2="339.35" stroke="#9a9aa2" stroke-width="0.8"/>
<ellipse cx="303.83" cy="337.45" rx="1.5" ry="1.2" fill="#8a8a94"/>
<line x1="296.32" y1="329.40" x2="300.52" y2="331.70" stroke="#aeaeb6" stroke-width="0.7"/>
<line x1="308.84" y1="340.36" x2="317.84" y2="345.26" stroke="#9a9aa2" stroke-width="0.8"/>
<ellipse cx="314.34" cy="343.36" rx="1.5" ry="1.2" fill="#8a8a94"/>
<line x1="306.85" y1="335.31" x2="311.05" y2="337.61" stroke="#aeaeb6" stroke-width="0.7"/>
<line x1="319.35" y1="346.27" x2="328.35" y2="351.17" stroke="#9a9aa2" stroke-width="0.8"/>
<ellipse cx="324.85" cy="349.27" rx="1.5" ry="1.2" fill="#8a8a94"/>
<line x1="317.39" y1="341.22" x2="321.59" y2="343.52" stroke="#aeaeb6" stroke-width="0.7"/>
<line x1="329.86" y1="352.18" x2="338.86" y2="357.08" stroke="#9a9aa2" stroke-width="0.8"/>
<ellipse cx="335.36" cy="355.18" rx="1.5" ry="1.2" fill="#8a8a94"/>
<line x1="327.92" y1="347.13" x2="332.12" y2="349.43" stroke="#aeaeb6" stroke-width="0.7"/>
<line x1="340.37" y1="358.08" x2="349.37" y2="362.98" stroke="#9a9aa2" stroke-width="0.8"/>
<ellipse cx="345.87" cy="361.08" rx="1.5" ry="1.2" fill="#8a8a94"/>
<line x1="338.46" y1="353.04" x2="342.66" y2="355.34" stroke="#aeaeb6" stroke-width="0.7"/>
<line x1="350.88" y1="363.99" x2="359.88" y2="368.89" stroke="#9a9aa2" stroke-width="0.8"/>
<ellipse cx="356.38" cy="366.99" rx="1.5" ry="1.2" fill="#8a8a94"/>
<line x1="348.99" y1="358.95" x2="353.19" y2="361.25" stroke="#aeaeb6" stroke-width="0.7"/>
<line x1="287.93" y1="338.71" x2="296.93" y2="343.61" stroke="#9a9aa2" stroke-width="0.8"/>
<ellipse cx="293.43" cy="341.71" rx="1.5" ry="1.2" fill="#8a8a94"/>
<line x1="285.93" y1="333.66" x2="290.13" y2="335.96" stroke="#aeaeb6" stroke-width="0.7"/>
<line x1="298.38" y1="344.61" x2="307.38" y2="349.51" stroke="#9a9aa2" stroke-width="0.8"/>
<ellipse cx="303.88" cy="347.61" rx="1.5" ry="1.2" fill="#8a8a94"/>
<line x1="296.40" y1="339.56" x2="300.60" y2="341.86" stroke="#aeaeb6" stroke-width="0.7"/>
<line x1="308.83" y1="350.51" x2="317.83" y2="355.41" stroke="#9a9aa2" stroke-width="0.8"/>
<ellipse cx="314.33" cy="353.51" rx="1.5" ry="1.2" fill="#8a8a94"/>
<line x1="306.88" y1="345.47" x2="311.08" y2="347.77" stroke="#aeaeb6" stroke-width="0.7"/>
<line x1="319.28" y1="356.41" x2="328.28" y2="361.31" stroke="#9a9aa2" stroke-width="0.8"/>
<ellipse cx="324.78" cy="359.41" rx="1.5" ry="1.2" fill="#8a8a94"/>
<line x1="317.35" y1="351.37" x2="321.55" y2="353.67" stroke="#aeaeb6" stroke-width="0.7"/>
<line x1="329.73" y1="362.31" x2="338.73" y2="367.21" stroke="#9a9aa2" stroke-width="0.8"/>
<ellipse cx="335.23" cy="365.31" rx="1.5" ry="1.2" fill="#8a8a94"/>
<line x1="327.82" y1="357.27" x2="332.02" y2="359.57" stroke="#aeaeb6" stroke-width="0.7"/>
<line x1="340.18" y1="368.22" x2="349.18" y2="373.12" stroke="#9a9aa2" stroke-width="0.8"/>
<ellipse cx="345.68" cy="371.22" rx="1.5" ry="1.2" fill="#8a8a94"/>
<line x1="338.30" y1="363.18" x2="342.50" y2="365.48" stroke="#aeaeb6" stroke-width="0.7"/>
<line x1="350.63" y1="374.12" x2="359.63" y2="379.02" stroke="#9a9aa2" stroke-width="0.8"/>
<ellipse cx="356.13" cy="377.12" rx="1.5" ry="1.2" fill="#8a8a94"/>
<line x1="348.77" y1="369.08" x2="352.97" y2="371.38" stroke="#aeaeb6" stroke-width="0.7"/>
<line x1="288.04" y1="348.87" x2="297.04" y2="353.77" stroke="#9a9aa2" stroke-width="0.8"/>
<ellipse cx="293.54" cy="351.87" rx="1.5" ry="1.2" fill="#8a8a94"/>
<line x1="286.08" y1="343.82" x2="290.28" y2="346.12" stroke="#aeaeb6" stroke-width="0.7"/>
<line x1="298.43" y1="354.76" x2="307.43" y2="359.66" stroke="#9a9aa2" stroke-width="0.8"/>
<ellipse cx="303.93" cy="357.76" rx="1.5" ry="1.2" fill="#8a8a94"/>
<line x1="296.49" y1="349.72" x2="300.69" y2="352.02" stroke="#aeaeb6" stroke-width="0.7"/>
<line x1="308.82" y1="360.66" x2="317.82" y2="365.56" stroke="#9a9aa2" stroke-width="0.8"/>
<ellipse cx="314.32" cy="363.66" rx="1.5" ry="1.2" fill="#8a8a94"/>
<line x1="306.90" y1="355.62" x2="311.10" y2="357.92" stroke="#aeaeb6" stroke-width="0.7"/>
<line x1="319.21" y1="366.56" x2="328.21" y2="371.46" stroke="#9a9aa2" stroke-width="0.8"/>
<ellipse cx="324.71" cy="369.56" rx="1.5" ry="1.2" fill="#8a8a94"/>
<line x1="317.31" y1="361.52" x2="321.51" y2="363.82" stroke="#aeaeb6" stroke-width="0.7"/>
<line x1="329.60" y1="372.45" x2="338.60" y2="377.35" stroke="#9a9aa2" stroke-width="0.8"/>
<ellipse cx="335.10" cy="375.45" rx="1.5" ry="1.2" fill="#8a8a94"/>
<line x1="327.72" y1="367.42" x2="331.92" y2="369.72" stroke="#aeaeb6" stroke-width="0.7"/>
<line x1="339.98" y1="378.35" x2="348.98" y2="383.25" stroke="#9a9aa2" stroke-width="0.8"/>
<ellipse cx="345.48" cy="381.35" rx="1.5" ry="1.2" fill="#8a8a94"/>
<line x1="338.13" y1="373.31" x2="342.33" y2="375.61" stroke="#aeaeb6" stroke-width="0.7"/>
<line x1="350.37" y1="384.24" x2="359.37" y2="389.14" stroke="#9a9aa2" stroke-width="0.8"/>
<ellipse cx="355.87" cy="387.24" rx="1.5" ry="1.2" fill="#8a8a94"/>
<line x1="348.55" y1="379.21" x2="352.75" y2="381.51" stroke="#aeaeb6" stroke-width="0.7"/>
<line x1="288.16" y1="359.03" x2="297.16" y2="363.93" stroke="#9a9aa2" stroke-width="0.8"/>
<ellipse cx="293.66" cy="362.03" rx="1.5" ry="1.2" fill="#8a8a94"/>
<line x1="286.22" y1="353.99" x2="290.42" y2="356.29" stroke="#aeaeb6" stroke-width="0.7"/>
<line x1="298.48" y1="364.92" x2="307.48" y2="369.82" stroke="#9a9aa2" stroke-width="0.8"/>
<ellipse cx="303.98" cy="367.92" rx="1.5" ry="1.2" fill="#8a8a94"/>
<line x1="296.57" y1="359.88" x2="300.77" y2="362.18" stroke="#aeaeb6" stroke-width="0.7"/>
<line x1="308.81" y1="370.81" x2="317.81" y2="375.71" stroke="#9a9aa2" stroke-width="0.8"/>
<ellipse cx="314.31" cy="373.81" rx="1.5" ry="1.2" fill="#8a8a94"/>
<line x1="306.92" y1="365.77" x2="311.12" y2="368.07" stroke="#aeaeb6" stroke-width="0.7"/>
<line x1="319.14" y1="376.70" x2="328.14" y2="381.60" stroke="#9a9aa2" stroke-width="0.8"/>
<ellipse cx="324.64" cy="379.70" rx="1.5" ry="1.2" fill="#8a8a94"/>
<line x1="317.27" y1="371.66" x2="321.47" y2="373.96" stroke="#aeaeb6" stroke-width="0.7"/>
<line x1="329.46" y1="382.59" x2="338.46" y2="387.49" stroke="#9a9aa2" stroke-width="0.8"/>
<ellipse cx="334.96" cy="385.59" rx="1.5" ry="1.2" fill="#8a8a94"/>
<line x1="327.62" y1="377.56" x2="331.82" y2="379.86" stroke="#aeaeb6" stroke-width="0.7"/>
<line x1="339.79" y1="388.48" x2="348.79" y2="393.38" stroke="#9a9aa2" stroke-width="0.8"/>
<ellipse cx="345.29" cy="391.48" rx="1.5" ry="1.2" fill="#8a8a94"/>
<line x1="337.97" y1="383.45" x2="342.17" y2="385.75" stroke="#aeaeb6" stroke-width="0.7"/>
<line x1="350.11" y1="394.37" x2="359.11" y2="399.27" stroke="#9a9aa2" stroke-width="0.8"/>
<ellipse cx="355.61" cy="397.37" rx="1.5" ry="1.2" fill="#8a8a94"/>
<line x1="348.32" y1="389.34" x2="352.52" y2="391.64" stroke="#aeaeb6" stroke-width="0.7"/>
<line x1="288.27" y1="369.19" x2="297.27" y2="374.09" stroke="#9a9aa2" stroke-width="0.8"/>
<ellipse cx="293.77" cy="372.19" rx="1.5" ry="1.2" fill="#8a8a94"/>
<line x1="286.37" y1="364.15" x2="290.57" y2="366.45" stroke="#aeaeb6" stroke-width="0.7"/>
<line x1="298.54" y1="375.08" x2="307.54" y2="379.98" stroke="#9a9aa2" stroke-width="0.8"/>
<ellipse cx="304.04" cy="378.08" rx="1.5" ry="1.2" fill="#8a8a94"/>
<line x1="296.66" y1="370.04" x2="300.86" y2="372.34" stroke="#aeaeb6" stroke-width="0.7"/>
<line x1="308.80" y1="380.96" x2="317.80" y2="385.86" stroke="#9a9aa2" stroke-width="0.8"/>
<ellipse cx="314.30" cy="383.96" rx="1.5" ry="1.2" fill="#8a8a94"/>
<line x1="306.95" y1="375.92" x2="311.15" y2="378.22" stroke="#aeaeb6" stroke-width="0.7"/>
<line x1="319.06" y1="386.84" x2="328.06" y2="391.74" stroke="#9a9aa2" stroke-width="0.8"/>
<ellipse cx="324.56" cy="389.84" rx="1.5" ry="1.2" fill="#8a8a94"/>
<line x1="317.24" y1="381.81" x2="321.44" y2="384.11" stroke="#aeaeb6" stroke-width="0.7"/>
<line x1="329.33" y1="392.73" x2="338.33" y2="397.63" stroke="#9a9aa2" stroke-width="0.8"/>
<ellipse cx="334.83" cy="395.73" rx="1.5" ry="1.2" fill="#8a8a94"/>
<line x1="327.52" y1="387.70" x2="331.72" y2="390.00" stroke="#aeaeb6" stroke-width="0.7"/>
<line x1="339.59" y1="398.61" x2="348.59" y2="403.51" stroke="#9a9aa2" stroke-width="0.8"/>
<ellipse cx="345.09" cy="401.61" rx="1.5" ry="1.2" fill="#8a8a94"/>
<line x1="337.81" y1="393.58" x2="342.01" y2="395.88" stroke="#aeaeb6" stroke-width="0.7"/>
<line x1="349.86" y1="404.50" x2="358.86" y2="409.40" stroke="#9a9aa2" stroke-width="0.8"/>
<ellipse cx="355.36" cy="407.50" rx="1.5" ry="1.2" fill="#8a8a94"/>
<line x1="348.10" y1="399.47" x2="352.30" y2="401.77" stroke="#aeaeb6" stroke-width="0.7"/>
<line x1="288.39" y1="379.35" x2="297.39" y2="384.25" stroke="#9a9aa2" stroke-width="0.8"/>
<ellipse cx="293.89" cy="382.35" rx="1.5" ry="1.2" fill="#8a8a94"/>
<line x1="286.52" y1="374.32" x2="290.72" y2="376.62" stroke="#aeaeb6" stroke-width="0.7"/>
<line x1="298.59" y1="385.23" x2="307.59" y2="390.13" stroke="#9a9aa2" stroke-width="0.8"/>
<ellipse cx="304.09" cy="388.23" rx="1.5" ry="1.2" fill="#8a8a94"/>
<line x1="296.75" y1="380.20" x2="300.95" y2="382.50" stroke="#aeaeb6" stroke-width="0.7"/>
<line x1="308.79" y1="391.11" x2="317.79" y2="396.01" stroke="#9a9aa2" stroke-width="0.8"/>
<ellipse cx="314.29" cy="394.11" rx="1.5" ry="1.2" fill="#8a8a94"/>
<line x1="306.97" y1="386.08" x2="311.17" y2="388.38" stroke="#aeaeb6" stroke-width="0.7"/>
<line x1="318.99" y1="396.99" x2="327.99" y2="401.89" stroke="#9a9aa2" stroke-width="0.8"/>
<ellipse cx="324.49" cy="399.99" rx="1.5" ry="1.2" fill="#8a8a94"/>
<line x1="317.20" y1="391.96" x2="321.40" y2="394.26" stroke="#aeaeb6" stroke-width="0.7"/>
<line x1="329.20" y1="402.87" x2="338.20" y2="407.77" stroke="#9a9aa2" stroke-width="0.8"/>
<ellipse cx="334.70" cy="405.87" rx="1.5" ry="1.2" fill="#8a8a94"/>
<line x1="327.42" y1="397.84" x2="331.62" y2="400.14" stroke="#aeaeb6" stroke-width="0.7"/>
<line x1="339.40" y1="408.74" x2="348.40" y2="413.64" stroke="#9a9aa2" stroke-width="0.8"/>
<ellipse cx="344.90" cy="411.74" rx="1.5" ry="1.2" fill="#8a8a94"/>
<line x1="337.65" y1="403.72" x2="341.85" y2="406.02" stroke="#aeaeb6" stroke-width="0.7"/>
<line x1="349.60" y1="414.62" x2="358.60" y2="419.52" stroke="#9a9aa2" stroke-width="0.8"/>
<ellipse cx="355.10" cy="417.62" rx="1.5" ry="1.2" fill="#8a8a94"/>
<line x1="347.88" y1="409.60" x2="352.08" y2="411.90" stroke="#aeaeb6" stroke-width="0.7"/>
<line x1="288.50" y1="389.52" x2="297.50" y2="394.42" stroke="#9a9aa2" stroke-width="0.8"/>
<ellipse cx="294.00" cy="392.52" rx="1.5" ry="1.2" fill="#8a8a94"/>
<line x1="286.67" y1="384.48" x2="290.87" y2="386.78" stroke="#aeaeb6" stroke-width="0.7"/>
<line x1="298.64" y1="395.39" x2="307.64" y2="400.29" stroke="#9a9aa2" stroke-width="0.8"/>
<ellipse cx="304.14" cy="398.39" rx="1.5" ry="1.2" fill="#8a8a94"/>
<line x1="296.83" y1="390.36" x2="301.03" y2="392.66" stroke="#aeaeb6" stroke-width="0.7"/>
<line x1="308.78" y1="401.26" x2="317.78" y2="406.16" stroke="#9a9aa2" stroke-width="0.8"/>
<ellipse cx="314.28" cy="404.26" rx="1.5" ry="1.2" fill="#8a8a94"/>
<line x1="307.00" y1="396.23" x2="311.20" y2="398.53" stroke="#aeaeb6" stroke-width="0.7"/>
<line x1="318.92" y1="407.13" x2="327.92" y2="412.03" stroke="#9a9aa2" stroke-width="0.8"/>
<ellipse cx="324.42" cy="410.13" rx="1.5" ry="1.2" fill="#8a8a94"/>
<line x1="317.16" y1="402.11" x2="321.36" y2="404.41" stroke="#aeaeb6" stroke-width="0.7"/>
<line x1="329.06" y1="413.00" x2="338.06" y2="417.90" stroke="#9a9aa2" stroke-width="0.8"/>
<ellipse cx="334.56" cy="416.00" rx="1.5" ry="1.2" fill="#8a8a94"/>
<line x1="327.33" y1="407.98" x2="331.53" y2="410.28" stroke="#aeaeb6" stroke-width="0.7"/>
<line x1="339.20" y1="418.88" x2="348.20" y2="423.78" stroke="#9a9aa2" stroke-width="0.8"/>
<ellipse cx="344.70" cy="421.88" rx="1.5" ry="1.2" fill="#8a8a94"/>
<line x1="337.49" y1="413.85" x2="341.69" y2="416.15" stroke="#aeaeb6" stroke-width="0.7"/>
<line x1="349.34" y1="424.75" x2="358.34" y2="429.65" stroke="#9a9aa2" stroke-width="0.8"/>
<ellipse cx="354.84" cy="427.75" rx="1.5" ry="1.2" fill="#8a8a94"/>
<line x1="347.65" y1="419.73" x2="351.85" y2="422.03" stroke="#aeaeb6" stroke-width="0.7"/>
<line x1="288.62" y1="399.68" x2="297.62" y2="404.58" stroke="#9a9aa2" stroke-width="0.8"/>
<ellipse cx="294.12" cy="402.68" rx="1.5" ry="1.2" fill="#8a8a94"/>
<line x1="286.82" y1="394.65" x2="291.02" y2="396.95" stroke="#aeaeb6" stroke-width="0.7"/>
<line x1="298.69" y1="405.54" x2="307.69" y2="410.44" stroke="#9a9aa2" stroke-width="0.8"/>
<ellipse cx="304.19" cy="408.54" rx="1.5" ry="1.2" fill="#8a8a94"/>
<line x1="296.92" y1="400.52" x2="301.12" y2="402.82" stroke="#aeaeb6" stroke-width="0.7"/>
<line x1="308.77" y1="411.41" x2="317.77" y2="416.31" stroke="#9a9aa2" stroke-width="0.8"/>
<ellipse cx="314.27" cy="414.41" rx="1.5" ry="1.2" fill="#8a8a94"/>
<line x1="307.02" y1="406.38" x2="311.22" y2="408.68" stroke="#aeaeb6" stroke-width="0.7"/>
<line x1="318.85" y1="417.28" x2="327.85" y2="422.18" stroke="#9a9aa2" stroke-width="0.8"/>
<ellipse cx="324.35" cy="420.28" rx="1.5" ry="1.2" fill="#8a8a94"/>
<line x1="317.12" y1="412.25" x2="321.32" y2="414.55" stroke="#aeaeb6" stroke-width="0.7"/>
<line x1="328.93" y1="423.14" x2="337.93" y2="428.04" stroke="#9a9aa2" stroke-width="0.8"/>
<ellipse cx="334.43" cy="426.14" rx="1.5" ry="1.2" fill="#8a8a94"/>
<line x1="327.23" y1="418.12" x2="331.43" y2="420.42" stroke="#aeaeb6" stroke-width="0.7"/>
<line x1="339.01" y1="429.01" x2="348.01" y2="433.91" stroke="#9a9aa2" stroke-width="0.8"/>
<ellipse cx="344.51" cy="432.01" rx="1.5" ry="1.2" fill="#8a8a94"/>
<line x1="337.33" y1="423.99" x2="341.53" y2="426.29" stroke="#aeaeb6" stroke-width="0.7"/>
<line x1="349.09" y1="434.87" x2="358.09" y2="439.77" stroke="#9a9aa2" stroke-width="0.8"/>
<ellipse cx="354.59" cy="437.87" rx="1.5" ry="1.2" fill="#8a8a94"/>
<line x1="347.43" y1="429.86" x2="351.63" y2="432.16" stroke="#aeaeb6" stroke-width="0.7"/>
<line x1="288.73" y1="409.84" x2="297.73" y2="414.74" stroke="#9a9aa2" stroke-width="0.8"/>
<ellipse cx="294.23" cy="412.84" rx="1.5" ry="1.2" fill="#8a8a94"/>
<line x1="286.97" y1="404.81" x2="291.17" y2="407.11" stroke="#aeaeb6" stroke-width="0.7"/>
<line x1="298.75" y1="415.70" x2="307.75" y2="420.60" stroke="#9a9aa2" stroke-width="0.8"/>
<ellipse cx="304.25" cy="418.70" rx="1.5" ry="1.2" fill="#8a8a94"/>
<line x1="297.01" y1="410.67" x2="301.21" y2="412.97" stroke="#aeaeb6" stroke-width="0.7"/>
<line x1="308.76" y1="421.56" x2="317.76" y2="426.46" stroke="#9a9aa2" stroke-width="0.8"/>
<ellipse cx="314.26" cy="424.56" rx="1.5" ry="1.2" fill="#8a8a94"/>
<line x1="307.05" y1="416.54" x2="311.25" y2="418.84" stroke="#aeaeb6" stroke-width="0.7"/>
<line x1="318.78" y1="427.42" x2="327.78" y2="432.32" stroke="#9a9aa2" stroke-width="0.8"/>
<ellipse cx="324.28" cy="430.42" rx="1.5" ry="1.2" fill="#8a8a94"/>
<line x1="317.09" y1="422.40" x2="321.29" y2="424.70" stroke="#aeaeb6" stroke-width="0.7"/>
<line x1="328.80" y1="433.28" x2="337.80" y2="438.18" stroke="#9a9aa2" stroke-width="0.8"/>
<ellipse cx="334.30" cy="436.28" rx="1.5" ry="1.2" fill="#8a8a94"/>
<line x1="327.13" y1="428.26" x2="331.33" y2="430.56" stroke="#aeaeb6" stroke-width="0.7"/>
<line x1="338.81" y1="439.14" x2="347.81" y2="444.04" stroke="#9a9aa2" stroke-width="0.8"/>
<ellipse cx="344.31" cy="442.14" rx="1.5" ry="1.2" fill="#8a8a94"/>
<line x1="337.17" y1="434.12" x2="341.37" y2="436.42" stroke="#aeaeb6" stroke-width="0.7"/>
<line x1="348.83" y1="445.00" x2="357.83" y2="449.90" stroke="#9a9aa2" stroke-width="0.8"/>
<ellipse cx="354.33" cy="448.00" rx="1.5" ry="1.2" fill="#8a8a94"/>
<line x1="347.21" y1="439.99" x2="351.41" y2="442.29" stroke="#aeaeb6" stroke-width="0.7"/>
<g filter="url(#bl1)" opacity="0.6"><ellipse cx="370" cy="336" rx="8" ry="4" fill="#c8c8f4"/><ellipse cx="368" cy="345" rx="6" ry="3" fill="#f2c8c8"/><ellipse cx="368" cy="428" rx="7" ry="4" fill="#f0c8d0"/><ellipse cx="366" cy="418" rx="6" ry="3" fill="#d0d0f4"/></g>
<line x1="359.80" y1="332.50" x2="356.60" y2="454.00" stroke="#c4c4c8" stroke-width="2.2"/>
<path d="M372.22 331.26 L380.04 327.86 L380.04 332.06 L372.22 335.46 Z" fill="#c6c6ca"/>
<path d="M360.26 335.46 L363.48 334.06 L363.48 338.06 L360.26 339.46 Z" fill="#d2d2d8"/>
<line x1="363.02" y1="338.46" x2="370.84" y2="332.86" stroke="#8e8e96" stroke-width="0.9"/>
<path d="M371.95 341.38 L379.77 337.98 L379.77 342.18 L371.95 345.58 Z" fill="#c6c6ca"/>
<path d="M359.99 345.58 L363.21 344.18 L363.21 348.18 L359.99 349.58 Z" fill="#d2d2d8"/>
<line x1="362.75" y1="348.58" x2="370.57" y2="342.98" stroke="#8e8e96" stroke-width="0.9"/>
<path d="M371.69 351.51 L379.51 348.11 L379.51 352.31 L371.69 355.71 Z" fill="#c6c6ca"/>
<path d="M359.73 355.71 L362.95 354.31 L362.95 358.31 L359.73 359.71 Z" fill="#d2d2d8"/>
<line x1="362.49" y1="358.71" x2="370.31" y2="353.11" stroke="#8e8e96" stroke-width="0.9"/>
<path d="M371.42 361.63 L379.24 358.23 L379.24 362.43 L371.42 365.83 Z" fill="#c6c6ca"/>
<path d="M359.46 365.83 L362.68 364.43 L362.68 368.43 L359.46 369.83 Z" fill="#d2d2d8"/>
<line x1="362.22" y1="368.83" x2="370.04" y2="363.23" stroke="#8e8e96" stroke-width="0.9"/>
<path d="M371.15 371.76 L378.97 368.36 L378.97 372.56 L371.15 375.96 Z" fill="#c6c6ca"/>
<path d="M359.19 375.96 L362.41 374.56 L362.41 378.56 L359.19 379.96 Z" fill="#d2d2d8"/>
<line x1="361.95" y1="378.96" x2="369.77" y2="373.36" stroke="#8e8e96" stroke-width="0.9"/>
<path d="M370.89 381.88 L378.71 378.48 L378.71 382.68 L370.89 386.08 Z" fill="#c6c6ca"/>
<path d="M358.93 386.08 L362.15 384.68 L362.15 388.68 L358.93 390.08 Z" fill="#d2d2d8"/>
<line x1="361.69" y1="389.08" x2="369.51" y2="383.48" stroke="#8e8e96" stroke-width="0.9"/>
<path d="M370.62 392.01 L378.44 388.61 L378.44 392.81 L370.62 396.21 Z" fill="#c6c6ca"/>
<path d="M358.66 396.21 L361.88 394.81 L361.88 398.81 L358.66 400.21 Z" fill="#d2d2d8"/>
<line x1="361.42" y1="399.21" x2="369.24" y2="393.61" stroke="#8e8e96" stroke-width="0.9"/>
<path d="M370.35 402.13 L378.17 398.73 L378.17 402.93 L370.35 406.33 Z" fill="#c6c6ca"/>
<path d="M358.39 406.33 L361.61 404.93 L361.61 408.93 L358.39 410.33 Z" fill="#d2d2d8"/>
<line x1="361.15" y1="409.33" x2="368.97" y2="403.73" stroke="#8e8e96" stroke-width="0.9"/>
<path d="M370.09 412.26 L377.91 408.86 L377.91 413.06 L370.09 416.46 Z" fill="#c6c6ca"/>
<path d="M358.13 416.46 L361.35 415.06 L361.35 419.06 L358.13 420.46 Z" fill="#d2d2d8"/>
<line x1="360.89" y1="419.46" x2="368.71" y2="413.86" stroke="#8e8e96" stroke-width="0.9"/>
<path d="M369.82 422.38 L377.64 418.98 L377.64 423.18 L369.82 426.58 Z" fill="#c6c6ca"/>
<path d="M357.86 426.58 L361.08 425.18 L361.08 429.18 L357.86 430.58 Z" fill="#d2d2d8"/>
<line x1="360.62" y1="429.58" x2="368.44" y2="423.98" stroke="#8e8e96" stroke-width="0.9"/>
<path d="M369.55 432.51 L377.37 429.11 L377.37 433.31 L369.55 436.71 Z" fill="#c6c6ca"/>
<path d="M357.59 436.71 L360.81 435.31 L360.81 439.31 L357.59 440.71 Z" fill="#d2d2d8"/>
<line x1="360.35" y1="439.71" x2="368.17" y2="434.11" stroke="#8e8e96" stroke-width="0.9"/>
<path d="M369.29 442.63 L377.11 439.23 L377.11 443.43 L369.29 446.83 Z" fill="#c6c6ca"/>
<path d="M357.33 446.83 L360.55 445.43 L360.55 449.43 L357.33 450.83 Z" fill="#d2d2d8"/>
<line x1="360.09" y1="449.83" x2="367.91" y2="444.23" stroke="#8e8e96" stroke-width="0.9"/>
<g filter="url(#bl08)"><path d="M282.80 292.00 L287.60 287.00 L310.00 288.00 L323.00 293.50 L345.40 304.80 L358.30 308.00 L374.40 316.00 L382.60 320.40 L381.00 326.00 L362.00 334.50 L359.00 333.50 L283.90 292.50 Z" fill="#fbf0f2"/><path d="M288.50 291.50 L296.00 290.00 L303.00 289.50" fill="none" stroke="#1010ff" stroke-width="5.0" stroke-linecap="round" stroke-linejoin="round"/><path d="M288.50 290.40 L296.00 288.90 L303.00 288.40" fill="none" stroke="#fff" stroke-width="1.2" stroke-linecap="round" opacity="0.35"/><ellipse cx="0" cy="0" rx="5.5" ry="3.8" fill="#1010ff" transform="translate(302.5 290.3) rotate(-5.0)"/><path d="M290.80 296.50 L298.00 295.60 L306.00 293.50 L313.00 291.40" fill="none" stroke="#ff1010" stroke-width="6.5" stroke-linecap="round" stroke-linejoin="round"/><path d="M290.80 295.07 L298.00 294.17 L306.00 292.07 L313.00 289.97" fill="none" stroke="#fff" stroke-width="1.6" stroke-linecap="round" opacity="0.35"/><ellipse cx="0" cy="0" rx="4.5" ry="3.4" fill="#ff1010" transform="translate(314.5 291.2) rotate(-10.0)"/><ellipse cx="0" cy="0" rx="6.0" ry="4.2" fill="#1010ff" transform="translate(305.5 302.0) rotate(20.0)"/><path d="M305.00 302.00 L311.00 306.50" fill="none" stroke="#1010ff" stroke-width="4.2" stroke-linecap="round" stroke-linejoin="round"/><path d="M305.00 301.08 L311.00 305.58" fill="none" stroke="#fff" stroke-width="1.1" stroke-linecap="round" opacity="0.35"/><ellipse cx="0" cy="0" rx="7.5" ry="3.4" fill="#1010ff" transform="translate(323.0 295.6) rotate(-5.0)"/><path d="M312.50 309.50 L318.00 305.00 L326.00 301.50 L334.00 299.60" fill="none" stroke="#ff1010" stroke-width="6.6" stroke-linecap="round" stroke-linejoin="round"/><path d="M312.50 308.05 L318.00 303.55 L326.00 300.05 L334.00 298.15" fill="none" stroke="#fff" stroke-width="1.6" stroke-linecap="round" opacity="0.35"/><ellipse cx="0" cy="0" rx="7.5" ry="3.3" fill="#1010ff" transform="translate(329.5 306.0) rotate(-8.0)"/><path d="M337.50 311.50 L343.00 309.00 L350.00 307.00" fill="none" stroke="#ff1010" stroke-width="6.0" stroke-linecap="round" stroke-linejoin="round"/><path d="M337.50 310.18 L343.00 307.68 L350.00 305.68" fill="none" stroke="#fff" stroke-width="1.5" stroke-linecap="round" opacity="0.35"/><ellipse cx="0" cy="0" rx="6.0" ry="3.2" fill="#1010ff" transform="translate(357.0 310.6) rotate(-5.0)"/><path d="M334.50 315.20 L340.00 318.50 L346.20 322.30" fill="none" stroke="#1010ff" stroke-width="5.6" stroke-linecap="round" stroke-linejoin="round"/><path d="M334.50 313.97 L340.00 317.27 L346.20 321.07" fill="none" stroke="#fff" stroke-width="1.4" stroke-linecap="round" opacity="0.35"/><path d="M346.50 318.80 L352.00 324.00 L357.60 329.60" fill="none" stroke="#ff1010" stroke-width="6.0" stroke-linecap="round" stroke-linejoin="round"/><path d="M346.50 317.48 L352.00 322.68 L357.60 328.28" fill="none" stroke="#fff" stroke-width="1.5" stroke-linecap="round" opacity="0.35"/><ellipse cx="0" cy="0" rx="8.5" ry="3.0" fill="#ff1010" transform="translate(366.0 316.0) rotate(10.0)"/><ellipse cx="0" cy="0" rx="3.4" ry="5.6" fill="#1010ff" transform="translate(360.0 329.0) rotate(0.0)"/><ellipse cx="0" cy="0" rx="8.0" ry="3.0" fill="#1010ff" transform="translate(375.0 321.0) rotate(0.0)"/><line x1="291.0" y1="293.2" x2="311.0" y2="289.2" stroke="#fff" stroke-width="1.1" opacity="0.75"/><line x1="300.0" y1="298.2" x2="318.0" y2="296.4" stroke="#fff" stroke-width="1.1" opacity="0.75"/><line x1="314.0" y1="302.6" x2="332.0" y2="297.8" stroke="#fff" stroke-width="1.1" opacity="0.75"/><line x1="330.0" y1="310.2" x2="348.0" y2="305.2" stroke="#fff" stroke-width="1.1" opacity="0.75"/><line x1="343.0" y1="314.6" x2="364.0" y2="312.2" stroke="#fff" stroke-width="1.1" opacity="0.75"/></g>
<ellipse cx="286" cy="292" rx="3.5" ry="2.5" fill="#f6caca" filter="url(#bl05)"/>
<g filter="url(#bl05)"><path d="M360.5 441 L371 439 L375 446 L373 454.5 L363 456.5 L360 451 Z" fill="#ff1010"/><ellipse cx="356.5" cy="449" rx="3.2" ry="6.5" fill="#1010ff"/><ellipse cx="374.8" cy="441.5" rx="2.8" ry="5.5" fill="#1010ff"/><ellipse cx="366" cy="435" rx="4.5" ry="2.6" fill="#f4c0c0"/></g>
<g filter="url(#bl1)" opacity="0.8"><ellipse cx="346" cy="444" rx="4" ry="5" fill="#8c8cff"/><ellipse cx="337" cy="440" rx="3.5" ry="3.5" fill="#b4b4ff"/></g>
<path d="M271.40 272.30 L282.07 274.11 L280.87 276.19 L288.60 279.42 L285.48 280.40 L286.20 283.58 L279.53 278.53 L278.33 280.61 Z" fill="#1a9a48" stroke="#0c5a28" stroke-width="0.6" stroke-linejoin="round"/>
<path d="M386.30 330.70 L396.92 332.91 L395.65 334.94 L403.27 338.46 L400.12 339.32 L400.73 342.54 L394.22 337.24 L392.95 339.27 Z" fill="#1a9a48" stroke="#0c5a28" stroke-width="0.6" stroke-linejoin="round"/>
<path d="M381.80 455.20 L392.04 457.79 L390.66 459.76 L397.88 463.53 L394.74 464.26 L395.12 467.47 L389.11 461.97 L387.73 463.94 Z" fill="#1a9a48" stroke="#0c5a28" stroke-width="0.6" stroke-linejoin="round"/>
<circle cx="271.7" cy="403.7" r="5.0" fill="none" stroke="#c0141e" stroke-width="1.8"/><line x1="268.2" y1="400.2" x2="275.2" y2="407.2" stroke="#c0141e" stroke-width="1.8"/>
<text transform="translate(336.0 289.5) rotate(28)" font-size="11.5" font-family="Liberation Sans, sans-serif">Top</text>
<text transform="translate(300.5 436.0) rotate(28)" font-size="11.5" font-family="Liberation Sans, sans-serif">Bottom</text>
<rect x="415.7" y="334" width="7.6" height="109.4" fill="url(#pbar)"/>
<line x1="421.5" y1="347.7" x2="423.3" y2="347.7" stroke="#888" stroke-width="0.5"/>
<line x1="421.5" y1="361.4" x2="423.3" y2="361.4" stroke="#888" stroke-width="0.5"/>
<line x1="421.5" y1="375.0" x2="423.3" y2="375.0" stroke="#888" stroke-width="0.5"/>
<line x1="421.5" y1="388.7" x2="423.3" y2="388.7" stroke="#888" stroke-width="0.5"/>
<line x1="421.5" y1="402.4" x2="423.3" y2="402.4" stroke="#888" stroke-width="0.5"/>
<line x1="421.5" y1="416.1" x2="423.3" y2="416.1" stroke="#888" stroke-width="0.5"/>
<line x1="421.5" y1="429.7" x2="423.3" y2="429.7" stroke="#888" stroke-width="0.5"/>
<text x="418.7" y="333.5" font-size="11" text-anchor="middle" font-family="Liberation Sans, sans-serif">+</text>
<text x="418.7" y="452.5" font-size="11" text-anchor="middle" font-family="Liberation Sans, sans-serif">–</text>
<text x="428.5" y="393.2" font-size="12" font-family="Liberation Sans, sans-serif">P</text>
<text x="-0.8" y="13.7" font-size="17.5" font-weight="bold" font-family="Liberation Sans, sans-serif">a</text><text x="248.9" y="13.7" font-size="17.5" font-weight="bold" font-family="Liberation Sans, sans-serif">b</text><text x="454.0" y="13.9" font-size="17.5" font-weight="bold" font-family="Liberation Sans, sans-serif">c</text><text x="-0.8" y="266.0" font-size="17.5" font-weight="bold" font-family="Liberation Sans, sans-serif">d</text><text x="248.6" y="265.8" font-size="17.5" font-weight="bold" font-family="Liberation Sans, sans-serif">e</text>
</svg>
</body></html>
